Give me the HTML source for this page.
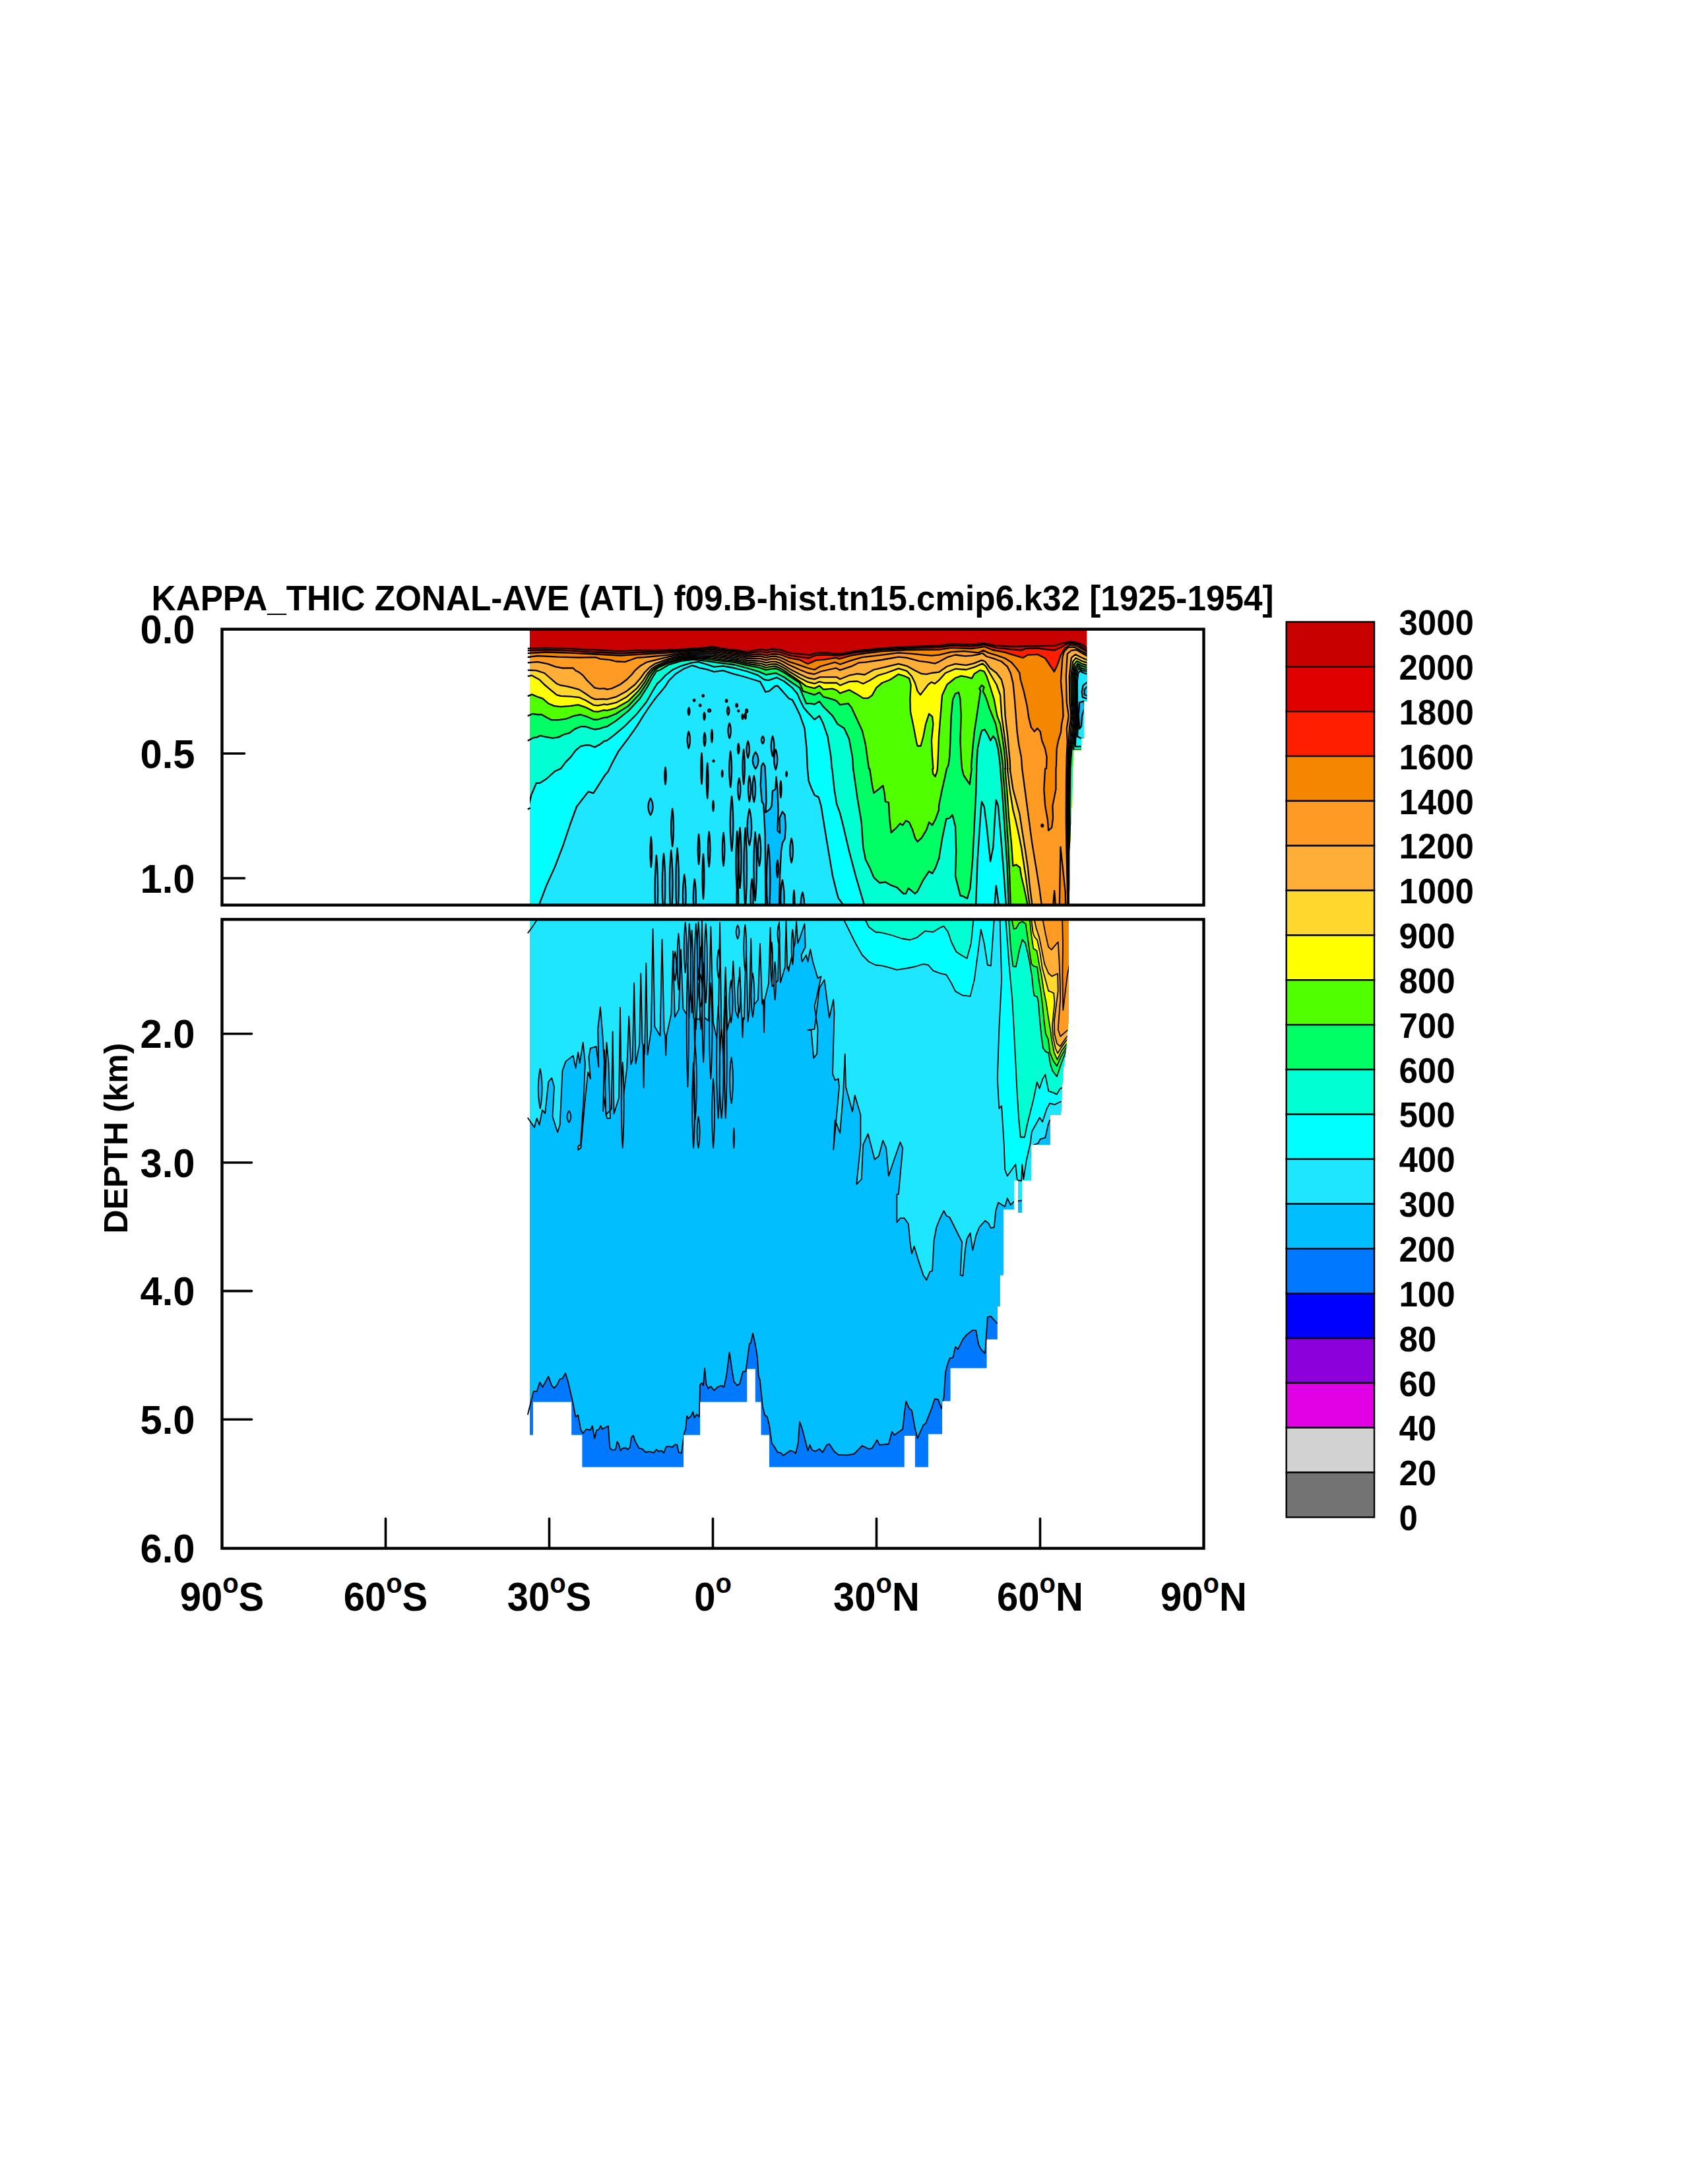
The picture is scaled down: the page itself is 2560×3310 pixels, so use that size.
<!DOCTYPE html>
<html lang="en"><head><meta charset="utf-8"><title>KAPPA_THIC ZONAL-AVE (ATL)</title>
<style>html,body{margin:0;padding:0;background:#fff}svg{display:block}text{font-family:"Liberation Sans", Arial, Helvetica, sans-serif;font-weight:bold;fill:#000}</style></head><body>
<svg width="2560" height="3310" viewBox="0 0 2560 3310">
<rect width="2560" height="3310" fill="#fff"/>
<defs><clipPath id="cu"><path d="M803.0 953.6 L1647.3 953.6 L1647.3 1062.6 L1642.7 1062.6 L1642.7 1118.4 L1638.7 1118.4 L1638.7 1136.3 L1626.8 1136.3 L1624.8 1205.0 L1621.8 1284.0 L1620.8 1371.7 L803.0 1371.7Z"/></clipPath><clipPath id="cl"><path d="M803.0 1393.4 L1620.0 1393.4 L1620.0 1540.0 L1616.0 1590.0 L1611.0 1625.0 L1608.0 1690.0 L1592.0 1690.0 L1592.0 1735.0 L1563.0 1735.0 L1563.0 1789.0 L1549.0 1789.0 L1549.0 1838.0 L1543.0 1838.0 L1543.0 1789.0 L1537.0 1789.0 L1537.0 1833.0 L1520.6 1833.0 L1520.6 1932.4 L1515.6 1932.4 L1515.6 1979.9 L1511.8 1979.9 L1511.8 2029.9 L1495.6 2029.9 L1495.6 2073.6 L1440.6 2073.6 L1440.6 2123.6 L1428.1 2123.6 L1428.1 2173.5 L1406.9 2173.5 L1406.9 2223.5 L1386.9 2223.5 L1386.9 2176.0 L1370.7 2176.0 L1370.7 2223.5 L1166.0 2223.5 L1166.0 2174.8 L1153.5 2174.8 L1153.5 2124.8 L1144.8 2124.8 L1144.8 2074.8 L1132.3 2074.8 L1132.3 2124.8 L1061.1 2124.8 L1061.1 2174.8 L1036.1 2174.8 L1036.1 2223.5 L882.4 2223.5 L882.4 2174.8 L866.2 2174.8 L866.2 2124.8 L808.0 2124.8 L808.0 2174.8 L803.0 2174.8Z"/></clipPath></defs>
<g clip-path="url(#cu)" stroke="#000" stroke-width="2.3" stroke-linejoin="round">
<rect x="780" y="940" width="900" height="450" fill="#C80000" stroke="none"/>
<path d="M780.0 982.7 L800.2 982.7 L827.5 981.9 L865.0 983.1 L902.4 985.0 L939.9 986.6 L964.9 985.6 L1001.0 985.6 L1038.5 983.7 L1057.2 982.5 L1071.0 981.5 L1078.5 979.7 L1085.9 981.2 L1100.9 983.7 L1119.7 985.6 L1132.2 988.1 L1144.7 985.6 L1153.4 984.0 L1162.1 985.6 L1168.4 983.5 L1182.1 984.4 L1195.9 989.4 L1212.0 991.2 L1228.2 992.7 L1237.0 989.7 L1253.2 989.5 L1272.0 991.2 L1299.4 986.2 L1336.9 982.5 L1374.4 980.2 L1423.0 978.7 L1441.7 976.0 L1473.0 976.9 L1491.7 975.0 L1510.4 978.7 L1535.4 980.0 L1560.4 979.4 L1597.9 978.7 L1610.4 975.0 L1622.9 972.5 L1634.0 974.4 L1639.7 976.9 L1648.7 981.9 L1700.0 981.9 L1700.0 1420.0 L780.0 1420.0Z" fill="#E10000"/>
<path d="M780.0 986.0 L800.2 986.0 L827.5 985.0 L865.0 986.2 L902.4 988.5 L939.9 990.0 L964.9 989.0 L1013.5 987.2 L1032.2 985.8 L1038.5 985.5 L1051.0 984.6 L1057.2 984.3 L1071.0 983.5 L1078.5 982.1 L1085.9 983.5 L1088.4 983.9 L1100.9 986.0 L1113.4 987.2 L1119.7 988.0 L1132.2 990.5 L1144.7 988.7 L1150.9 987.8 L1153.4 987.5 L1160.9 989.1 L1162.1 989.3 L1168.4 987.3 L1170.0 987.4 L1175.9 987.5 L1182.1 988.1 L1188.4 990.3 L1195.9 993.2 L1200.9 993.9 L1212.0 995.6 L1225.7 997.5 L1237.0 993.1 L1253.2 992.7 L1272.0 993.7 L1299.4 988.5 L1336.9 984.7 L1374.4 982.5 L1423.0 981.2 L1441.7 978.7 L1473.0 979.7 L1491.7 976.9 L1510.4 981.9 L1535.4 984.4 L1547.9 985.6 L1554.2 983.1 L1572.9 982.5 L1597.9 985.6 L1607.9 981.2 L1617.9 975.6 L1625.4 974.4 L1634.0 976.9 L1639.7 980.5 L1648.7 985.5 L1700.0 985.5 L1700.0 1420.0 L780.0 1420.0Z" fill="#FF1E00"/>
<path d="M780.0 990.0 L800.2 990.0 L827.5 988.5 L865.0 989.7 L902.4 991.5 L939.9 993.5 L964.9 992.2 L1013.5 989.3 L1032.2 987.6 L1038.5 987.2 L1051.0 986.3 L1057.2 986.1 L1071.0 985.7 L1078.5 984.6 L1085.9 986.0 L1088.4 986.4 L1100.9 988.4 L1113.4 989.7 L1119.7 990.5 L1132.2 993.2 L1144.7 992.0 L1150.9 991.5 L1153.4 991.4 L1160.9 993.2 L1162.1 993.3 L1168.4 991.5 L1170.0 991.5 L1175.9 991.3 L1182.1 992.0 L1188.4 994.2 L1195.9 997.2 L1200.9 998.1 L1212.0 1000.0 L1224.5 1006.2 L1237.0 1000.6 L1249.5 999.7 L1267.0 996.9 L1272.0 998.7 L1289.5 993.7 L1311.9 990.0 L1336.9 987.2 L1374.4 985.0 L1423.0 984.7 L1441.7 981.9 L1473.0 983.1 L1491.7 980.0 L1504.2 985.0 L1522.9 988.7 L1541.7 994.4 L1550.4 996.9 L1557.9 992.5 L1572.9 991.9 L1584.1 997.5 L1591.6 1008.7 L1597.9 1018.1 L1602.9 1007.5 L1607.9 992.5 L1614.1 982.5 L1621.6 977.5 L1627.9 977.5 L1634.0 980.0 L1639.7 983.3 L1648.7 988.5 L1700.0 988.5 L1700.0 1420.0 L780.0 1420.0Z" fill="#F58700"/>
<path d="M780.0 996.0 L800.2 996.0 L815.0 994.0 L846.2 995.6 L877.4 996.5 L902.4 996.2 L909.9 998.7 L924.9 1000.2 L933.7 1002.5 L947.4 1003.1 L956.1 1000.0 L964.9 996.9 L977.4 996.0 L1013.5 992.6 L1032.2 990.0 L1038.5 989.5 L1051.0 988.4 L1057.2 988.3 L1071.0 988.0 L1078.5 987.2 L1085.9 988.5 L1088.4 988.9 L1100.9 990.7 L1113.4 992.0 L1119.7 992.9 L1132.2 995.6 L1144.7 995.0 L1150.9 994.7 L1153.4 994.7 L1160.9 996.6 L1162.1 996.7 L1168.4 994.9 L1170.0 994.9 L1175.9 994.9 L1182.1 996.3 L1188.4 999.0 L1195.9 1002.8 L1200.9 1004.4 L1212.0 1008.1 L1224.5 1012.5 L1234.5 1015.0 L1243.2 1010.0 L1265.7 1003.7 L1273.2 1006.8 L1289.5 1001.2 L1306.9 996.2 L1336.9 992.7 L1361.9 989.4 L1380.6 990.6 L1399.4 992.7 L1411.9 993.7 L1423.0 992.7 L1441.7 988.1 L1460.5 986.9 L1473.0 988.1 L1483.0 989.4 L1490.5 985.6 L1498.0 989.4 L1510.4 993.1 L1522.9 997.5 L1532.9 1003.7 L1540.4 1012.5 L1545.4 1020.0 L1546.7 1030.0 L1551.7 1047.4 L1556.7 1069.9 L1559.2 1087.4 L1562.9 1102.4 L1567.9 1108.7 L1572.3 1103.7 L1576.7 1108.7 L1579.2 1122.4 L1584.1 1134.9 L1586.6 1147.4 L1586.0 1164.9 L1584.1 1165.0 L1582.3 1196.2 L1584.1 1221.2 L1587.9 1242.5 L1589.1 1258.7 L1594.1 1254.3 L1596.0 1240.0 L1595.4 1221.2 L1600.4 1196.2 L1600.4 1165.0 L1601.0 1159.9 L1601.6 1134.9 L1604.1 1122.4 L1607.9 1109.9 L1609.1 1097.4 L1611.6 1084.9 L1610.4 1059.9 L1607.9 1032.5 L1610.4 996.2 L1612.9 987.5 L1619.1 981.2 L1627.9 980.6 L1634.0 983.7 L1639.7 986.9 L1648.7 991.8 L1700.0 991.8 L1700.0 1420.0 L780.0 1420.0Z" fill="#FF9B23"/>
<path d="M780.0 1004.3 L800.2 1004.3 L815.0 1003.1 L830.0 1006.2 L842.5 1010.6 L852.5 1012.5 L868.7 1012.5 L872.4 1016.2 L877.4 1018.7 L883.7 1023.7 L889.9 1031.2 L896.2 1037.5 L901.2 1042.4 L908.7 1043.9 L916.2 1043.4 L919.9 1044.9 L927.4 1043.4 L939.9 1037.5 L949.9 1030.0 L957.4 1022.5 L962.4 1016.2 L971.1 1008.7 L979.9 1003.7 L989.9 1001.2 L1013.5 995.4 L1032.2 992.1 L1038.5 991.6 L1051.0 990.4 L1057.2 990.4 L1071.0 990.3 L1078.5 989.7 L1085.9 991.0 L1088.4 991.3 L1100.9 993.1 L1113.4 994.4 L1119.7 995.4 L1132.2 998.2 L1144.7 998.1 L1150.9 998.1 L1153.4 998.3 L1160.9 1000.3 L1162.1 1000.4 L1168.4 998.7 L1170.0 998.6 L1175.9 998.7 L1182.1 1000.5 L1188.4 1003.5 L1195.9 1007.8 L1200.9 1009.9 L1212.0 1015.0 L1224.5 1020.0 L1234.5 1021.8 L1244.5 1017.5 L1267.0 1012.5 L1273.2 1015.6 L1292.0 1009.3 L1301.9 1004.3 L1311.9 1003.7 L1336.9 1000.0 L1361.9 995.6 L1374.4 996.9 L1393.1 1001.8 L1406.9 1003.7 L1416.9 1005.6 L1423.0 1003.1 L1435.5 996.2 L1448.0 992.5 L1463.0 994.4 L1473.0 993.7 L1483.0 991.9 L1489.2 990.0 L1495.5 995.0 L1507.9 998.7 L1517.9 1002.5 L1526.7 1010.0 L1531.7 1020.0 L1535.4 1035.0 L1537.9 1059.9 L1539.8 1084.9 L1541.7 1109.9 L1544.2 1128.6 L1547.9 1147.4 L1549.2 1164.9 L1549.2 1165.0 L1554.2 1202.5 L1559.2 1240.0 L1564.2 1277.4 L1570.4 1314.9 L1575.4 1346.1 L1578.5 1369.9 L1579.8 1384.9 L1579.8 1420.0 L780.0 1420.0Z" fill="#FFAF37"/>
<path d="M780.0 1015.6 L800.2 1015.6 L812.5 1016.2 L825.0 1020.0 L833.7 1027.5 L843.7 1036.2 L850.0 1038.7 L861.2 1040.6 L877.4 1044.9 L887.4 1051.2 L896.2 1057.4 L902.4 1059.9 L914.9 1059.3 L919.9 1059.9 L933.7 1056.2 L949.9 1047.4 L962.4 1037.5 L971.1 1027.5 L977.4 1018.7 L984.9 1011.2 L992.4 1006.2 L1013.5 998.3 L1032.2 994.3 L1038.5 993.7 L1051.0 992.3 L1057.2 992.4 L1071.0 992.6 L1078.5 992.3 L1085.9 993.5 L1088.4 993.8 L1100.9 995.5 L1113.4 996.9 L1119.7 998.0 L1132.2 1000.8 L1144.7 1001.5 L1150.9 1001.8 L1153.4 1002.1 L1160.9 1004.4 L1162.1 1004.4 L1168.4 1002.9 L1170.0 1002.8 L1175.9 1002.8 L1182.1 1005.1 L1188.4 1008.4 L1195.9 1013.2 L1200.9 1015.9 L1212.0 1021.8 L1224.5 1027.5 L1234.5 1029.3 L1243.2 1026.2 L1268.2 1026.2 L1273.2 1029.3 L1287.0 1023.7 L1299.4 1021.2 L1310.7 1022.5 L1324.4 1015.0 L1343.2 1010.6 L1361.9 1006.2 L1374.4 1009.3 L1386.9 1016.2 L1396.9 1021.2 L1404.4 1021.8 L1411.9 1020.0 L1423.0 1018.7 L1435.5 1010.0 L1448.0 1006.2 L1464.2 1008.1 L1475.5 1005.6 L1488.0 1000.6 L1493.0 1002.5 L1500.5 1012.5 L1510.4 1020.0 L1517.9 1030.0 L1521.7 1044.9 L1523.6 1084.9 L1527.3 1116.2 L1528.9 1134.9 L1530.7 1153.6 L1531.2 1164.9 L1530.7 1165.0 L1535.4 1196.2 L1540.4 1215.0 L1545.4 1233.7 L1549.2 1258.7 L1554.2 1289.9 L1557.9 1314.9 L1560.4 1339.9 L1564.2 1369.9 L1565.4 1384.9 L1565.4 1420.0 L780.0 1420.0Z" fill="#FFD72D"/>
<path d="M780.0 1024.7 L800.2 1024.7 L806.2 1023.7 L817.5 1030.0 L825.0 1037.5 L833.7 1044.9 L843.7 1053.1 L850.0 1054.9 L865.0 1055.6 L877.4 1056.8 L887.4 1061.2 L899.9 1068.7 L906.2 1069.3 L916.2 1067.4 L919.9 1068.1 L933.7 1064.9 L949.9 1056.2 L964.9 1043.7 L974.9 1031.2 L981.1 1021.2 L987.4 1013.7 L994.9 1008.7 L1013.5 1000.5 L1032.2 996.1 L1038.5 995.5 L1051.0 994.1 L1057.2 994.4 L1071.0 994.8 L1078.5 994.8 L1085.9 996.0 L1088.4 996.3 L1100.9 997.9 L1113.4 999.3 L1119.7 1000.5 L1132.2 1003.4 L1144.7 1004.6 L1150.9 1005.3 L1153.4 1005.7 L1160.9 1008.1 L1162.1 1008.1 L1168.4 1006.7 L1170.0 1006.5 L1175.9 1006.4 L1182.1 1009.0 L1188.4 1012.3 L1195.9 1017.4 L1200.9 1020.4 L1212.0 1027.2 L1224.5 1033.7 L1234.5 1036.2 L1242.0 1033.1 L1249.5 1035.0 L1268.2 1035.0 L1273.2 1038.7 L1287.0 1033.1 L1299.4 1032.5 L1308.2 1036.2 L1318.2 1031.2 L1330.7 1023.7 L1343.2 1020.0 L1361.9 1013.1 L1374.4 1016.8 L1381.9 1025.0 L1386.9 1035.0 L1390.6 1047.4 L1395.0 1053.1 L1399.4 1047.4 L1406.9 1037.5 L1411.9 1033.7 L1416.9 1036.2 L1423.0 1031.2 L1433.0 1020.0 L1448.0 1013.7 L1464.2 1015.0 L1476.7 1011.2 L1489.2 1005.6 L1494.2 1010.0 L1503.0 1025.0 L1510.4 1037.5 L1516.1 1053.7 L1518.2 1084.9 L1521.7 1109.9 L1524.8 1134.9 L1526.9 1153.6 L1527.4 1164.9 L1526.9 1165.0 L1530.4 1196.2 L1535.4 1227.5 L1539.2 1242.5 L1542.9 1258.7 L1547.9 1283.7 L1551.7 1308.7 L1555.4 1333.6 L1557.9 1352.4 L1560.4 1369.9 L1561.4 1384.9 L1561.4 1420.0 L780.0 1420.0Z" fill="#FFFF00"/>
<path d="M780.0 1054.9 L800.2 1054.9 L806.2 1052.4 L815.0 1056.2 L822.5 1058.7 L831.2 1066.2 L840.0 1069.9 L850.0 1071.2 L865.0 1069.9 L876.2 1068.1 L887.4 1071.8 L899.9 1078.1 L906.2 1078.7 L916.2 1076.2 L919.9 1076.8 L933.7 1073.1 L952.4 1062.4 L967.4 1047.4 L977.4 1033.7 L983.6 1022.5 L989.9 1015.0 L996.1 1010.6 L1013.5 1002.8 L1032.2 998.0 L1038.5 997.3 L1051.0 995.9 L1057.2 996.3 L1071.0 997.0 L1078.5 997.4 L1085.9 998.4 L1088.4 998.8 L1100.9 1000.3 L1113.4 1001.6 L1119.7 1002.9 L1132.2 1005.8 L1144.7 1007.5 L1150.9 1008.4 L1153.4 1009.0 L1160.9 1011.6 L1162.1 1011.5 L1168.4 1010.1 L1170.0 1009.9 L1175.9 1009.7 L1182.1 1012.6 L1188.4 1016.1 L1195.9 1021.4 L1200.9 1024.8 L1212.0 1032.5 L1222.0 1040.0 L1234.5 1043.1 L1242.0 1039.3 L1248.2 1044.9 L1262.0 1043.7 L1268.2 1046.2 L1273.2 1050.6 L1287.0 1045.6 L1299.4 1052.4 L1308.2 1058.1 L1315.7 1058.1 L1321.9 1053.7 L1328.2 1042.4 L1336.9 1035.0 L1349.4 1030.0 L1361.9 1021.8 L1371.9 1025.0 L1378.1 1028.1 L1380.6 1037.5 L1379.4 1059.9 L1380.0 1078.7 L1384.4 1099.9 L1389.4 1126.1 L1390.6 1130.5 L1395.6 1130.5 L1399.4 1116.2 L1403.1 1097.4 L1408.1 1081.8 L1413.1 1086.2 L1414.4 1097.4 L1411.9 1122.4 L1413.1 1147.4 L1414.4 1164.9 L1413.4 1165.0 L1414.0 1172.5 L1417.5 1176.9 L1420.0 1170.0 L1420.9 1165.0 L1421.8 1147.4 L1423.0 1116.2 L1425.5 1084.9 L1428.0 1053.7 L1435.5 1037.5 L1448.0 1027.5 L1456.7 1024.3 L1464.2 1025.6 L1473.0 1028.1 L1476.7 1021.2 L1485.5 1015.6 L1491.7 1017.5 L1495.5 1025.0 L1500.5 1040.0 L1506.7 1059.9 L1511.4 1084.9 L1516.1 1097.4 L1519.2 1116.2 L1521.7 1134.9 L1523.6 1153.6 L1523.9 1164.9 L1523.3 1165.0 L1526.7 1202.5 L1529.2 1240.0 L1532.9 1277.4 L1535.4 1312.4 L1540.4 1310.5 L1546.0 1314.9 L1547.9 1327.4 L1552.3 1346.1 L1557.3 1369.9 L1558.5 1384.9 L1558.5 1420.0 L780.0 1420.0Z" fill="#50FF00"/>
<path d="M780.0 1084.9 L800.2 1084.9 L807.5 1081.8 L815.0 1083.0 L821.2 1083.0 L828.7 1087.4 L836.2 1091.2 L846.2 1091.2 L858.7 1089.3 L870.0 1084.9 L879.9 1083.0 L889.9 1086.2 L899.9 1090.5 L906.2 1090.5 L916.2 1087.4 L919.9 1087.4 L933.7 1081.8 L952.4 1069.9 L969.9 1051.2 L979.9 1036.2 L986.1 1025.0 L992.4 1016.2 L997.4 1011.8 L1013.5 1004.7 L1032.2 999.6 L1038.5 999.0 L1051.0 997.6 L1057.2 998.1 L1071.0 999.2 L1078.5 999.9 L1085.9 1000.9 L1088.4 1001.2 L1100.9 1002.6 L1113.4 1003.9 L1119.7 1005.3 L1132.2 1008.3 L1144.7 1010.7 L1150.9 1011.9 L1153.4 1012.6 L1160.9 1015.3 L1162.1 1015.2 L1168.4 1013.9 L1170.0 1013.7 L1175.9 1013.0 L1182.1 1015.9 L1188.4 1019.2 L1195.9 1024.3 L1200.9 1027.6 L1212.0 1034.7 L1217.0 1047.4 L1224.5 1049.9 L1234.5 1053.1 L1242.0 1049.3 L1248.2 1056.2 L1262.0 1059.9 L1268.2 1062.4 L1273.2 1068.1 L1285.7 1066.2 L1290.7 1072.4 L1299.4 1091.2 L1306.9 1107.4 L1311.9 1128.6 L1316.9 1164.9 L1318.2 1165.0 L1321.9 1190.0 L1324.4 1201.9 L1331.9 1196.2 L1338.2 1190.6 L1340.7 1202.5 L1341.9 1215.0 L1346.9 1216.2 L1348.2 1240.0 L1350.7 1261.8 L1358.2 1254.9 L1364.4 1248.1 L1368.2 1250.6 L1373.1 1243.7 L1378.1 1246.2 L1383.1 1257.4 L1386.9 1269.9 L1390.6 1275.6 L1396.9 1269.9 L1404.4 1257.4 L1408.1 1246.2 L1413.1 1250.6 L1418.1 1241.2 L1423.0 1227.5 L1423.0 1221.2 L1428.0 1196.2 L1431.7 1180.0 L1434.9 1165.0 L1437.4 1159.9 L1439.2 1147.4 L1440.5 1122.4 L1441.7 1084.9 L1444.2 1059.9 L1448.0 1051.2 L1453.0 1049.3 L1455.5 1059.9 L1456.7 1084.9 L1455.5 1122.4 L1456.7 1147.4 L1458.0 1164.9 L1458.2 1165.0 L1460.5 1175.0 L1469.8 1188.7 L1472.7 1165.0 L1472.0 1162.4 L1474.2 1134.9 L1476.7 1109.9 L1480.5 1084.9 L1484.2 1059.9 L1486.1 1047.4 L1484.5 1043.1 L1488.0 1038.5 L1491.5 1041.4 L1489.8 1047.4 L1493.0 1053.7 L1496.7 1063.7 L1499.2 1072.4 L1504.2 1084.9 L1509.2 1097.4 L1512.9 1116.2 L1516.7 1134.9 L1519.4 1153.6 L1520.2 1164.9 L1519.8 1165.0 L1522.9 1202.5 L1525.4 1240.0 L1527.9 1277.4 L1529.8 1314.9 L1531.7 1369.9 L1532.4 1384.9 L1532.4 1420.0 L780.0 1420.0Z" fill="#00FF64"/>
<path d="M780.0 1122.4 L800.2 1122.4 L808.7 1118.0 L813.7 1117.4 L818.7 1114.9 L827.5 1116.8 L837.5 1118.7 L846.2 1117.4 L855.0 1113.0 L862.5 1111.2 L871.2 1104.9 L879.9 1101.2 L887.4 1101.2 L894.9 1103.7 L901.2 1105.5 L908.7 1104.3 L916.2 1101.8 L919.9 1101.2 L933.7 1092.4 L952.4 1077.4 L969.9 1058.7 L981.1 1041.2 L988.6 1027.5 L994.9 1017.5 L1001.0 1015.0 L1013.5 1007.5 L1032.2 1001.8 L1051.0 999.7 L1071.0 1001.8 L1088.4 1004.3 L1113.4 1007.5 L1132.2 1012.5 L1150.9 1018.1 L1160.9 1022.5 L1170.0 1021.2 L1175.9 1020.0 L1188.4 1026.2 L1200.9 1035.0 L1212.0 1042.4 L1222.0 1066.2 L1228.2 1066.2 L1234.5 1067.4 L1242.0 1063.1 L1248.2 1071.2 L1262.0 1084.9 L1269.5 1097.4 L1279.5 1103.7 L1287.0 1119.9 L1292.0 1147.4 L1293.2 1164.9 L1293.2 1165.0 L1299.4 1208.7 L1305.7 1246.2 L1308.2 1283.7 L1311.9 1302.4 L1318.2 1314.9 L1324.4 1329.9 L1333.2 1338.0 L1341.9 1336.8 L1349.4 1341.1 L1359.4 1344.9 L1369.4 1354.3 L1373.1 1354.3 L1376.9 1346.1 L1386.9 1354.3 L1390.6 1351.1 L1399.4 1333.6 L1408.1 1320.5 L1413.1 1323.7 L1418.1 1314.9 L1423.0 1301.2 L1423.0 1302.4 L1428.0 1271.2 L1434.2 1241.2 L1439.2 1240.0 L1443.6 1235.0 L1448.0 1252.4 L1449.2 1289.9 L1448.0 1327.4 L1455.5 1357.4 L1459.2 1358.0 L1466.1 1361.8 L1470.5 1346.1 L1474.2 1302.4 L1476.7 1252.4 L1479.2 1202.5 L1480.2 1165.0 L1480.2 1159.9 L1481.7 1134.9 L1485.5 1116.2 L1488.0 1107.4 L1492.3 1105.5 L1496.7 1112.4 L1501.1 1122.4 L1505.4 1115.5 L1509.2 1121.1 L1512.7 1134.9 L1515.2 1153.6 L1516.2 1164.9 L1516.1 1165.0 L1519.2 1202.5 L1521.7 1240.0 L1524.2 1277.4 L1526.7 1314.9 L1528.6 1369.9 L1529.2 1384.9 L1529.2 1420.0 L780.0 1420.0Z" fill="#00FFD2"/>
<path d="M780.0 1227.6 L797.6 1227.6 L800.2 1226.3 L805.3 1204.7 L812.9 1186.9 L818.0 1186.9 L828.2 1180.5 L840.9 1169.0 L850.0 1164.9 L857.5 1154.9 L865.0 1147.4 L872.4 1137.4 L879.9 1131.1 L887.4 1129.3 L893.7 1129.3 L901.2 1132.4 L908.7 1128.6 L916.2 1123.0 L919.9 1122.4 L929.9 1114.9 L946.2 1101.2 L964.9 1082.4 L979.9 1063.7 L989.9 1046.2 L996.1 1036.2 L1001.0 1031.8 L1008.5 1023.7 L1019.7 1015.0 L1032.2 1009.3 L1048.5 1004.3 L1058.5 1003.1 L1071.0 1006.8 L1082.2 1010.6 L1095.9 1009.3 L1113.4 1012.5 L1132.2 1017.5 L1148.4 1023.1 L1158.4 1030.0 L1164.6 1031.2 L1177.1 1026.8 L1188.4 1032.5 L1200.9 1042.4 L1208.4 1051.2 L1212.0 1059.9 L1218.2 1072.4 L1224.5 1079.9 L1234.5 1090.5 L1242.0 1084.9 L1247.0 1094.9 L1254.5 1116.2 L1259.5 1147.4 L1260.7 1164.9 L1261.3 1165.0 L1264.5 1196.2 L1268.2 1218.7 L1273.2 1232.5 L1278.2 1252.4 L1287.0 1289.9 L1296.9 1327.4 L1309.4 1369.9 L1313.2 1384.9 L1313.2 1420.0 L780.0 1420.0Z" fill="#00FFFF"/>
<path d="M780.0 1382.9 L814.2 1382.9 L818.0 1368.9 L828.2 1342.1 L840.9 1314.1 L853.6 1281.0 L863.8 1250.5 L874.0 1222.5 L891.8 1199.6 L899.5 1202.1 L917.3 1174.1 L921.2 1170.0 L927.4 1157.4 L937.4 1138.6 L952.4 1118.7 L964.9 1101.2 L974.9 1084.9 L984.9 1069.9 L994.9 1056.2 L1001.0 1049.3 L1008.5 1040.0 L1013.5 1031.8 L1023.5 1021.8 L1036.0 1013.7 L1048.5 1008.7 L1054.7 1010.0 L1058.5 1011.8 L1071.0 1014.3 L1082.2 1018.1 L1095.9 1016.2 L1110.9 1021.2 L1125.9 1025.0 L1142.2 1030.0 L1152.2 1033.1 L1157.2 1042.4 L1160.3 1048.7 L1165.9 1047.4 L1174.6 1040.0 L1178.4 1039.3 L1185.9 1047.4 L1195.9 1058.7 L1200.9 1060.6 L1205.9 1069.9 L1212.0 1082.4 L1219.5 1103.7 L1222.6 1134.9 L1223.9 1164.9 L1224.5 1171.2 L1225.7 1183.7 L1229.5 1193.7 L1234.5 1205.0 L1240.7 1208.1 L1244.5 1221.2 L1249.5 1252.4 L1255.7 1289.9 L1262.0 1327.4 L1268.2 1352.4 L1270.7 1361.1 L1277.0 1369.9 L1282.0 1384.9 L1282.0 1420.0 L780.0 1420.0Z" fill="#1EE6FF"/>
<path d="M1478.6 1384.9 L1481.7 1302.4 L1484.2 1264.9 L1486.7 1227.5 L1488.0 1215.0 L1491.7 1222.5 L1495.5 1252.4 L1501.1 1305.5 L1505.4 1283.7 L1507.9 1240.0 L1509.8 1212.5 L1512.9 1221.2 L1516.7 1264.9 L1521.7 1327.4 L1525.7 1384.9Z" fill="#00FFFF"/>
<path d="M1506.4 1384.9 L1509.8 1342.4 L1515.7 1384.9Z" fill="#1EE6FF"/>
<path d="M1595.1 1384.9 L1598.1 1349.9 L1600.9 1384.9Z" fill="#F58700"/>
<path d="M1605.6 1384.9 L1607.4 1283.7 L1614.8 1352.4 L1615.4 1384.9Z" fill="#F58700"/>
<path d="M1581.3 1251.2 L1581.0 1252.4 L1580.2 1253.1 L1579.3 1253.1 L1578.6 1252.4 L1578.3 1251.2 L1578.6 1250.0 L1579.3 1249.3 L1580.2 1249.3 L1581.0 1250.0Z" fill="#000"/>
<path d="M1648.7 994.8 L1639.7 989.8 L1631.8 984.9 L1623.8 985.9 L1617.8 990.8 L1615.8 1024.7 L1616.8 1064.6 L1619.8 1084.5 L1616.8 1104.5 L1617.8 1124.4 L1616.8 1144.3 L1616.0 1184.2 L1615.8 1244.0 L1616.4 1283.8 L1617.4 1323.7 L1618.6 1383.5 L1700.0 1383.5 L1700.0 994.8Z" fill="#FFAF37"/>
<path d="M1648.7 1000.8 L1639.7 996.8 L1629.8 991.8 L1623.8 996.8 L1620.8 1024.7 L1621.4 1064.6 L1623.4 1084.5 L1620.8 1104.5 L1619.8 1124.4 L1619.0 1144.3 L1617.8 1184.2 L1617.4 1244.0 L1617.8 1323.7 L1619.4 1383.5 L1700.0 1383.5 L1700.0 1000.8Z" fill="#FFD72D"/>
<path d="M1648.7 1004.8 L1639.7 1001.8 L1630.8 997.2 L1626.2 1002.8 L1623.4 1024.7 L1623.8 1064.6 L1625.4 1084.5 L1623.4 1104.5 L1622.2 1124.4 L1620.6 1136.3 L1619.4 1164.3 L1618.8 1244.0 L1619.0 1323.7 L1620.2 1383.5 L1700.0 1383.5 L1700.0 1004.8Z" fill="#FFFF00"/>
<path d="M1648.7 1008.4 L1639.7 1005.8 L1632.2 1001.8 L1628.2 1006.8 L1625.4 1024.7 L1625.8 1064.6 L1627.4 1084.5 L1625.8 1104.5 L1624.2 1124.4 L1622.4 1136.3 L1620.6 1164.3 L1620.0 1244.0 L1620.2 1323.7 L1621.0 1383.5 L1700.0 1383.5 L1700.0 1008.4Z" fill="#50FF00"/>
<path d="M1648.7 1011.8 L1639.7 1009.2 L1633.4 1005.8 L1629.8 1010.8 L1627.4 1024.7 L1627.8 1064.6 L1629.4 1084.5 L1627.8 1104.5 L1626.2 1124.4 L1624.2 1136.3 L1622.2 1164.3 L1621.4 1224.1 L1622.2 1283.8 L1623.8 1293.8 L1700.0 1293.8 L1700.0 1011.8Z" fill="#00FF64"/>
<path d="M1648.7 1014.8 L1639.7 1012.8 L1634.1 1009.2 L1631.4 1013.8 L1629.2 1024.7 L1629.8 1064.6 L1631.2 1084.5 L1629.8 1104.5 L1628.2 1124.4 L1627.0 1136.3 L1700.0 1136.3 L1700.0 1014.8Z" fill="#00FFD2"/>
<path d="M1648.7 1017.8 L1639.7 1015.8 L1635.3 1012.8 L1632.8 1016.8 L1631.0 1028.7 L1631.4 1064.6 L1632.8 1084.5 L1631.8 1104.5 L1630.2 1120.4 L1629.8 1131.4 L1700.0 1131.4 L1700.0 1017.8Z" fill="#00FFFF"/>
<path d="M1648.7 1021.7 L1640.7 1019.1 L1636.7 1016.8 L1634.1 1020.7 L1632.8 1032.7 L1633.0 1064.6 L1634.1 1084.5 L1633.7 1104.5 L1633.0 1116.4 L1639.7 1119.4 L1700.0 1119.4 L1700.0 1021.7Z" fill="#1EE6FF"/>
<path d="M1636.1 1064.6 L1642.7 1062.6 L1644.1 1072.6 L1640.1 1084.5 L1638.9 1100.5 L1636.1 1104.5 L1634.9 1084.5Z" fill="#00BEFF"/>
<path d="M1649.7 1032.7 L1641.7 1038.7 L1639.7 1048.6 L1640.7 1056.6 L1649.7 1059.6Z" fill="#1EE6FF"/>
<path d="M1649.7 1038.7 L1643.7 1044.7 L1643.3 1052.6 L1649.7 1055.6Z" fill="#00BEFF"/>
<path fill="#00BEFF" d="M1067.0 1054.5 L1066.7 1055.4 L1066.1 1055.9 L1065.3 1055.9 L1064.7 1055.4 L1064.4 1054.5 L1064.7 1053.6 L1065.3 1053.0 L1066.1 1053.0 L1066.7 1053.6Z M1053.5 1061.3 L1053.2 1062.2 L1052.6 1062.8 L1051.8 1062.8 L1051.2 1062.2 L1050.9 1061.3 L1051.2 1060.4 L1051.8 1059.9 L1052.6 1059.9 L1053.2 1060.4Z M1062.4 1069.0 L1062.2 1069.9 L1061.5 1070.4 L1060.7 1070.4 L1060.1 1069.9 L1059.9 1069.0 L1060.1 1068.1 L1060.7 1067.5 L1061.5 1067.5 L1062.2 1068.1Z M1102.4 1062.1 L1102.1 1063.3 L1101.5 1064.0 L1100.7 1064.0 L1100.1 1063.3 L1099.8 1062.1 L1100.1 1060.9 L1100.7 1060.2 L1101.5 1060.2 L1102.1 1060.9Z M1117.9 1069.0 L1117.7 1070.5 L1117.0 1071.4 L1116.2 1071.4 L1115.6 1070.5 L1115.4 1069.0 L1115.6 1067.5 L1116.2 1066.6 L1117.0 1066.6 L1117.7 1067.5Z M1120.2 1077.4 L1120.0 1078.0 L1119.5 1078.4 L1118.9 1078.4 L1118.4 1078.0 L1118.2 1077.4 L1118.4 1076.8 L1118.9 1076.4 L1119.5 1076.4 L1120.0 1076.8Z M1077.2 1076.9 L1076.8 1078.1 L1075.8 1078.8 L1074.5 1078.8 L1073.5 1078.1 L1073.1 1076.9 L1073.5 1075.7 L1074.5 1074.9 L1075.8 1074.9 L1076.8 1075.7Z M1133.2 1077.4 L1132.9 1078.9 L1132.1 1079.8 L1131.2 1079.8 L1130.4 1078.9 L1130.1 1077.4 L1130.4 1075.9 L1131.2 1075.0 L1132.1 1075.0 L1132.9 1075.9Z M1082.5 1153.2 L1082.3 1154.0 L1081.8 1154.5 L1081.2 1154.5 L1080.7 1154.0 L1080.5 1153.2 L1080.7 1152.5 L1081.2 1152.0 L1081.8 1152.0 L1082.3 1152.5Z M1044.1 1072.5 L1044.7 1073.9 L1045.2 1075.9 L1045.4 1078.1 L1045.2 1080.4 L1044.7 1082.4 L1044.1 1083.7 L1043.5 1082.4 L1043.0 1080.4 L1042.8 1078.1 L1043.0 1075.9 L1043.5 1073.9Z M1067.5 1079.9 L1068.1 1081.3 L1068.6 1083.3 L1068.8 1085.5 L1068.6 1087.8 L1068.1 1089.8 L1067.5 1091.1 L1066.9 1089.8 L1066.4 1087.8 L1066.2 1085.5 L1066.4 1083.3 L1066.9 1081.3Z M1103.6 1071.0 L1104.4 1072.5 L1105.1 1074.8 L1105.4 1077.4 L1105.1 1079.9 L1104.4 1082.2 L1103.6 1083.7 L1102.9 1082.2 L1102.2 1079.9 L1101.9 1077.4 L1102.2 1074.8 L1102.9 1072.5Z M1125.5 1082.5 L1126.0 1083.4 L1126.5 1084.8 L1126.6 1086.3 L1126.5 1087.8 L1126.0 1089.2 L1125.5 1090.1 L1125.1 1089.2 L1124.6 1087.8 L1124.5 1086.3 L1124.6 1084.8 L1125.1 1083.4Z M1129.9 1080.4 L1130.4 1081.5 L1130.8 1083.2 L1130.9 1085.0 L1130.8 1086.9 L1130.4 1088.5 L1129.9 1089.6 L1129.4 1088.5 L1128.9 1086.9 L1128.8 1085.0 L1128.9 1083.2 L1129.4 1081.5Z M1105.7 1096.0 L1106.7 1098.7 L1107.5 1102.8 L1107.8 1107.4 L1107.5 1112.0 L1106.7 1116.1 L1105.7 1118.9 L1104.7 1116.1 L1103.8 1112.0 L1103.5 1107.4 L1103.8 1102.8 L1104.7 1098.7Z M1043.8 1108.7 L1044.8 1111.8 L1045.7 1116.3 L1046.0 1121.4 L1045.7 1126.5 L1044.8 1131.1 L1043.8 1134.2 L1042.8 1131.1 L1042.0 1126.5 L1041.7 1121.4 L1042.0 1116.3 L1042.8 1111.8Z M1068.0 1110.5 L1068.7 1112.9 L1069.3 1116.6 L1069.5 1120.7 L1069.3 1124.7 L1068.7 1128.4 L1068.0 1130.8 L1067.3 1128.4 L1066.7 1124.7 L1066.5 1120.7 L1066.7 1116.6 L1067.3 1112.9Z M1079.0 1105.9 L1079.4 1108.2 L1079.9 1111.7 L1080.0 1115.6 L1079.9 1119.4 L1079.4 1122.9 L1079.0 1125.2 L1078.5 1122.9 L1078.0 1119.4 L1077.9 1115.6 L1078.0 1111.7 L1078.5 1108.2Z M1156.1 1115.8 L1157.1 1117.2 L1157.9 1119.2 L1158.3 1121.4 L1157.9 1123.7 L1157.1 1125.7 L1156.1 1127.0 L1155.1 1125.7 L1154.3 1123.7 L1153.9 1121.4 L1154.3 1119.2 L1155.1 1117.2Z M1171.1 1115.6 L1172.2 1119.2 L1173.1 1124.7 L1173.5 1130.8 L1173.1 1137.0 L1172.2 1142.5 L1171.1 1146.1 L1170.0 1142.5 L1169.1 1137.0 L1168.7 1130.8 L1169.1 1124.7 L1170.0 1119.2Z M1119.2 1127.0 L1119.8 1128.9 L1120.3 1131.6 L1120.5 1134.7 L1120.3 1137.7 L1119.8 1140.5 L1119.2 1142.3 L1118.6 1140.5 L1118.1 1137.7 L1117.9 1134.7 L1118.1 1131.6 L1118.6 1128.9Z M1133.7 1123.2 L1134.7 1126.3 L1135.5 1130.8 L1135.9 1135.9 L1135.5 1141.0 L1134.7 1145.6 L1133.7 1148.7 L1132.7 1145.6 L1131.8 1141.0 L1131.5 1135.9 L1131.8 1130.8 L1132.7 1126.3Z M1145.1 1139.8 L1147.1 1142.8 L1148.8 1147.4 L1149.5 1152.5 L1148.8 1157.6 L1147.1 1162.2 L1145.1 1165.2 L1143.2 1162.2 L1141.5 1157.6 L1140.8 1152.5 L1141.5 1147.4 L1143.2 1142.8Z M1175.7 1135.9 L1176.9 1139.6 L1177.9 1145.1 L1178.3 1151.2 L1177.9 1157.3 L1176.9 1162.8 L1175.7 1166.5 L1174.5 1162.8 L1173.5 1157.3 L1173.1 1151.2 L1173.5 1145.1 L1174.5 1139.6Z M986.0 1209.8 L987.6 1212.8 L989.1 1217.4 L989.6 1222.5 L989.1 1227.6 L987.6 1232.2 L986.0 1235.2 L984.4 1232.2 L983.0 1227.6 L982.5 1222.5 L983.0 1217.4 L984.4 1212.8Z M986.8 1268.3 L987.4 1273.8 L987.9 1282.1 L988.1 1291.2 L987.9 1300.4 L987.4 1308.6 L986.8 1314.1 L986.2 1308.6 L985.7 1300.4 L985.5 1291.2 L985.7 1282.1 L986.2 1273.8Z M994.9 1296.3 L996.0 1309.2 L996.9 1328.4 L997.2 1349.8 L996.9 1371.2 L996.0 1390.4 L994.9 1403.2 L993.9 1390.4 L993.0 1371.2 L992.6 1349.8 L993.0 1328.4 L993.9 1309.2Z M1008.5 1162.8 L1009.0 1165.9 L1009.5 1170.5 L1009.6 1175.7 L1009.5 1180.9 L1009.0 1185.6 L1008.5 1188.7 L1008.0 1185.6 L1007.5 1180.9 L1007.4 1175.7 L1007.5 1170.5 L1008.0 1165.9Z M1063.5 1141.3 L1064.0 1146.9 L1064.4 1155.3 L1064.6 1164.7 L1064.4 1174.1 L1064.0 1182.5 L1063.5 1188.1 L1063.0 1182.5 L1062.5 1174.1 L1062.3 1164.7 L1062.5 1155.3 L1063.0 1146.9Z M1072.2 1156.4 L1072.8 1162.8 L1073.3 1172.5 L1073.5 1183.2 L1073.3 1193.9 L1072.8 1203.5 L1072.2 1210.0 L1071.6 1203.5 L1071.1 1193.9 L1070.9 1183.2 L1071.1 1172.5 L1071.6 1162.8Z M1094.7 1167.5 L1095.1 1168.7 L1095.4 1170.5 L1095.5 1172.5 L1095.4 1174.5 L1095.1 1176.3 L1094.7 1177.5 L1094.3 1176.3 L1094.0 1174.5 L1093.8 1172.5 L1094.0 1170.5 L1094.3 1168.7Z M1107.2 1138.5 L1108.0 1145.1 L1108.8 1154.9 L1109.1 1165.8 L1108.8 1176.7 L1108.0 1186.6 L1107.2 1193.1 L1106.3 1186.6 L1105.6 1176.7 L1105.3 1165.8 L1105.6 1154.9 L1106.3 1145.1Z M1127.2 1136.0 L1127.9 1142.3 L1128.6 1151.8 L1128.9 1162.4 L1128.6 1172.9 L1127.9 1182.4 L1127.2 1188.7 L1126.4 1182.4 L1125.7 1172.9 L1125.5 1162.4 L1125.7 1151.8 L1126.4 1142.3Z M1120.3 1179.4 L1121.2 1183.3 L1122.1 1189.3 L1122.4 1195.9 L1122.1 1202.5 L1121.2 1208.5 L1120.3 1212.5 L1119.4 1208.5 L1118.5 1202.5 L1118.2 1195.9 L1118.5 1189.3 L1119.4 1183.3Z M1135.9 1176.2 L1136.8 1180.9 L1137.7 1187.9 L1138.0 1195.6 L1137.7 1203.4 L1136.8 1210.3 L1135.9 1215.0 L1135.0 1210.3 L1134.2 1203.4 L1133.9 1195.6 L1134.2 1187.9 L1135.0 1180.9Z M1142.8 1175.6 L1143.8 1180.4 L1144.8 1187.6 L1145.1 1195.6 L1144.8 1203.6 L1143.8 1210.8 L1142.8 1215.6 L1141.7 1210.8 L1140.8 1203.6 L1140.4 1195.6 L1140.8 1187.6 L1141.7 1180.4Z M1183.4 1183.7 L1183.9 1186.7 L1184.3 1191.2 L1184.5 1196.2 L1184.3 1201.2 L1183.9 1205.7 L1183.4 1208.7 L1182.9 1205.7 L1182.4 1201.2 L1182.3 1196.2 L1182.4 1191.2 L1182.9 1186.7Z M1192.1 1169.4 L1192.5 1170.3 L1192.8 1171.6 L1192.9 1173.1 L1192.8 1174.6 L1192.5 1176.0 L1192.1 1176.9 L1191.8 1176.0 L1191.5 1174.6 L1191.4 1173.1 L1191.5 1171.6 L1191.8 1170.3Z M1019.1 1225.6 L1020.0 1232.5 L1020.7 1242.8 L1021.0 1254.3 L1020.7 1265.8 L1020.0 1276.2 L1019.1 1283.1 L1018.3 1276.2 L1017.5 1265.8 L1017.2 1254.3 L1017.5 1242.8 L1018.3 1232.5Z M1081.0 1213.7 L1081.4 1215.6 L1081.7 1218.4 L1081.9 1221.5 L1081.7 1224.7 L1081.4 1227.5 L1081.0 1229.3 L1080.5 1227.5 L1080.2 1224.7 L1080.0 1221.5 L1080.2 1218.4 L1080.5 1215.6Z M1109.1 1206.8 L1110.1 1216.8 L1111.0 1231.8 L1111.4 1248.4 L1111.0 1265.0 L1110.1 1280.0 L1109.1 1289.9 L1108.0 1280.0 L1107.1 1265.0 L1106.7 1248.4 L1107.1 1231.8 L1108.0 1216.8Z M1135.9 1226.2 L1137.4 1232.8 L1138.7 1242.7 L1139.2 1253.7 L1138.7 1264.7 L1137.4 1274.6 L1135.9 1281.2 L1134.4 1274.6 L1133.1 1264.7 L1132.6 1253.7 L1133.1 1242.7 L1134.4 1232.8Z M1059.1 1264.3 L1059.7 1269.8 L1060.3 1278.0 L1060.5 1287.1 L1060.3 1296.2 L1059.7 1304.4 L1059.1 1309.9 L1058.5 1304.4 L1057.9 1296.2 L1057.7 1287.1 L1057.9 1278.0 L1058.5 1269.8Z M1074.7 1260.6 L1075.5 1266.9 L1076.1 1276.5 L1076.4 1287.1 L1076.1 1297.7 L1075.5 1307.3 L1074.7 1313.7 L1073.9 1307.3 L1073.3 1297.7 L1073.0 1287.1 L1073.3 1276.5 L1073.9 1266.9Z M1096.6 1261.8 L1097.3 1267.9 L1098.0 1277.0 L1098.3 1287.1 L1098.0 1297.2 L1097.3 1306.3 L1096.6 1312.4 L1095.8 1306.3 L1095.1 1297.2 L1094.9 1287.1 L1095.1 1277.0 L1095.8 1267.9Z M1066.0 1294.3 L1066.6 1302.5 L1067.2 1314.7 L1067.4 1328.3 L1067.2 1342.0 L1066.6 1354.2 L1066.0 1362.4 L1065.3 1354.2 L1064.8 1342.0 L1064.6 1328.3 L1064.8 1314.7 L1065.3 1302.5Z M1006.0 1293.7 L1007.1 1305.2 L1008.0 1322.5 L1008.3 1341.8 L1008.0 1361.0 L1007.1 1378.3 L1006.0 1389.9 L1004.9 1378.3 L1004.0 1361.0 L1003.7 1341.8 L1004.0 1322.5 L1004.9 1305.2Z M1017.2 1288.7 L1018.3 1300.8 L1019.2 1319.0 L1019.6 1339.3 L1019.2 1359.5 L1018.3 1377.7 L1017.2 1389.9 L1016.2 1377.7 L1015.2 1359.5 L1014.9 1339.3 L1015.2 1319.0 L1016.2 1300.8Z M1026.6 1285.5 L1027.7 1298.1 L1028.6 1316.8 L1029.0 1337.7 L1028.6 1358.6 L1027.7 1377.3 L1026.6 1389.9 L1025.6 1377.3 L1024.6 1358.6 L1024.3 1337.7 L1024.6 1316.8 L1025.6 1298.1Z M1037.2 1325.5 L1038.3 1333.2 L1039.2 1344.8 L1039.6 1357.7 L1039.2 1370.6 L1038.3 1382.1 L1037.2 1389.9 L1036.2 1382.1 L1035.2 1370.6 L1034.9 1357.7 L1035.2 1344.8 L1036.2 1333.2Z M1052.8 1332.4 L1053.8 1339.3 L1054.6 1349.6 L1054.9 1361.1 L1054.6 1372.6 L1053.8 1383.0 L1052.8 1389.9 L1051.9 1383.0 L1051.1 1372.6 L1050.8 1361.1 L1051.1 1349.6 L1051.9 1339.3Z M1144.7 1261.2 L1145.7 1273.6 L1146.7 1292.3 L1147.0 1313.0 L1146.7 1333.8 L1145.7 1352.4 L1144.7 1364.9 L1143.6 1352.4 L1142.7 1333.8 L1142.3 1313.0 L1142.7 1292.3 L1143.6 1273.6Z M1150.9 1264.3 L1152.0 1270.1 L1152.9 1278.7 L1153.2 1288.4 L1152.9 1298.0 L1152.0 1306.6 L1150.9 1312.4 L1149.9 1306.6 L1148.9 1298.0 L1148.6 1288.4 L1148.9 1278.7 L1149.9 1270.1Z M1164.6 1279.9 L1165.9 1293.1 L1167.0 1312.9 L1167.5 1334.9 L1167.0 1356.9 L1165.9 1376.7 L1164.6 1389.9 L1163.4 1376.7 L1162.3 1356.9 L1161.8 1334.9 L1162.3 1312.9 L1163.4 1293.1Z M1178.4 1303.7 L1179.0 1306.8 L1179.6 1311.5 L1179.8 1316.8 L1179.6 1322.0 L1179.0 1326.7 L1178.4 1329.9 L1177.8 1326.7 L1177.2 1322.0 L1177.0 1316.8 L1177.2 1311.5 L1177.8 1306.8Z M1199.6 1270.6 L1200.7 1275.0 L1201.6 1281.6 L1202.0 1289.0 L1201.6 1296.4 L1200.7 1303.0 L1199.6 1307.4 L1198.6 1303.0 L1197.6 1296.4 L1197.3 1289.0 L1197.6 1281.6 L1198.6 1275.0Z M1185.9 1333.6 L1187.1 1340.4 L1188.3 1350.5 L1188.7 1361.8 L1188.3 1373.0 L1187.1 1383.1 L1185.9 1389.9 L1184.6 1383.1 L1183.5 1373.0 L1183.1 1361.8 L1183.5 1350.5 L1184.6 1340.4Z M1203.4 1349.3 L1203.9 1354.1 L1204.3 1361.4 L1204.5 1369.6 L1204.3 1377.7 L1203.9 1385.0 L1203.4 1389.9 L1202.9 1385.0 L1202.4 1377.7 L1202.2 1369.6 L1202.4 1361.4 L1202.9 1354.1Z M1117.8 1333.6 L1118.4 1340.4 L1119.0 1350.5 L1119.2 1361.8 L1119.0 1373.0 L1118.4 1383.1 L1117.8 1389.9 L1117.2 1383.1 L1116.6 1373.0 L1116.4 1361.8 L1116.6 1350.5 L1117.2 1340.4Z M1139.7 1332.4 L1140.6 1339.3 L1141.4 1349.6 L1141.7 1361.1 L1141.4 1372.6 L1140.6 1383.0 L1139.7 1389.9 L1138.7 1383.0 L1137.9 1372.6 L1137.6 1361.1 L1137.9 1349.6 L1138.7 1339.3Z M1117.2 1259.9 L1117.9 1271.0 L1118.6 1287.7 L1118.9 1306.2 L1118.6 1324.7 L1117.9 1341.3 L1117.2 1352.4 L1116.4 1341.3 L1115.7 1324.7 L1115.5 1306.2 L1115.7 1287.7 L1116.4 1271.0Z M1121.5 1254.3 L1122.5 1265.3 L1123.3 1281.9 L1123.6 1300.2 L1123.3 1318.6 L1122.5 1335.1 L1121.5 1346.1 L1120.6 1335.1 L1119.8 1318.6 L1119.5 1300.2 L1119.8 1281.9 L1120.6 1265.3Z M1129.7 1254.9 L1130.7 1269.6 L1131.7 1291.7 L1132.0 1316.2 L1131.7 1340.6 L1130.7 1362.7 L1129.7 1377.4 L1128.6 1362.7 L1127.7 1340.6 L1127.3 1316.2 L1127.7 1291.7 L1128.6 1269.6Z M1154.0 1161.3 L1156.7 1156.4 L1159.4 1161.3 L1160.9 1190.0 L1161.5 1215.0 L1160.3 1231.2 L1167.1 1226.2 L1169.6 1221.2 L1170.9 1198.7 L1175.3 1196.2 L1176.5 1177.5 L1178.4 1196.2 L1179.6 1227.5 L1178.4 1258.7 L1182.1 1262.4 L1181.5 1240.0 L1185.9 1230.0 L1189.6 1235.0 L1190.9 1252.4 L1189.6 1271.2 L1185.9 1277.4 L1184.0 1289.9 L1182.1 1327.4 L1180.9 1377.4 L1160.3 1377.4 L1159.7 1264.9 L1158.4 1240.0 L1157.2 1218.7 L1154.7 1215.0 L1152.8 1190.0Z M1216.4 1352.4 L1217.6 1356.9 L1218.7 1363.6 L1219.1 1371.1 L1218.7 1378.6 L1217.6 1385.4 L1216.4 1389.9 L1215.1 1385.4 L1214.0 1378.6 L1213.6 1371.1 L1214.0 1363.6 L1215.1 1356.9Z"/>
</g>
<path d="M799.8 982.8 L804 982.6 M799.8 986.0 L804 985.8 M799.8 990.0 L804 989.8 M799.8 996.0 L804 995.5 M799.8 1004.4 L804 1004.0 M799.8 1015.6 L804 1015.8 M799.8 1024.8 L804 1024.1 M799.8 1055.1 L804 1053.4 M799.8 1085.1 L804 1083.3 M799.8 1122.6 L804 1120.5 M799.8 1226.5 L804 1224.4" fill="none" stroke="#000" stroke-width="2.3"/>
<path d="M799.8 2144.3 L804 2127.5 M799.8 1694.0 L804 1700.0 M799.8 1414.4 L804 1408.8" fill="none" stroke="#000" stroke-width="1.8"/>
<g clip-path="url(#cl)" stroke="#000" stroke-width="1.8" stroke-linejoin="round">
<rect x="780" y="1380" width="900" height="900" fill="#0078FF" stroke="none"/>
<path d="M780.0 2143.5 L800.0 2143.5 L808.7 2108.6 L813.7 2108.6 L818.2 2094.8 L822.5 2102.3 L831.2 2086.1 L836.2 2099.8 L840.0 2103.6 L843.7 2099.8 L848.7 2089.8 L852.5 2089.3 L857.0 2081.1 L861.2 2094.8 L867.5 2122.3 L872.5 2147.3 L876.2 2144.8 L880.4 2167.3 L883.7 2172.3 L888.7 2166.0 L894.9 2167.3 L897.9 2161.0 L901.2 2179.8 L904.4 2167.3 L907.4 2166.8 L910.4 2161.0 L912.9 2166.0 L917.4 2163.5 L921.9 2161.0 L924.4 2194.8 L927.4 2197.3 L932.9 2197.3 L935.4 2184.8 L937.9 2188.5 L940.4 2198.5 L943.7 2194.8 L948.7 2194.3 L951.2 2196.8 L954.9 2193.5 L956.9 2178.5 L959.9 2175.3 L962.9 2184.8 L968.6 2194.8 L973.6 2196.0 L978.6 2201.0 L984.9 2199.8 L991.1 2201.8 L994.9 2196.8 L998.6 2199.8 L1002.4 2198.5 L1006.1 2201.8 L1009.9 2192.3 L1016.1 2192.3 L1018.6 2193.5 L1023.6 2189.3 L1026.1 2189.3 L1028.6 2201.0 L1032.9 2202.3 L1037.4 2169.8 L1039.1 2167.3 L1041.1 2146.0 L1043.6 2149.8 L1047.3 2146.0 L1050.3 2139.8 L1052.3 2148.5 L1056.1 2143.5 L1059.8 2147.3 L1061.1 2098.6 L1063.6 2096.1 L1066.1 2099.8 L1068.1 2073.6 L1070.3 2097.3 L1073.6 2104.3 L1077.3 2101.1 L1082.3 2107.3 L1087.3 2102.3 L1093.6 2099.8 L1097.3 2102.3 L1101.1 2084.8 L1105.6 2049.4 L1109.3 2074.8 L1112.3 2093.6 L1117.3 2099.8 L1121.1 2097.3 L1126.0 2078.6 L1130.3 2078.6 L1136.0 2036.1 L1137.8 2036.1 L1141.0 2020.6 L1144.3 2034.9 L1147.8 2056.1 L1149.8 2086.1 L1151.8 2091.1 L1156.0 2132.3 L1159.3 2144.8 L1162.8 2147.3 L1166.0 2159.8 L1169.8 2187.3 L1173.5 2192.3 L1178.5 2201.0 L1183.5 2201.8 L1187.3 2206.0 L1192.3 2202.3 L1197.8 2198.5 L1202.3 2199.8 L1206.0 2202.8 L1209.7 2187.3 L1212.0 2154.8 L1215.7 2164.8 L1224.5 2198.5 L1227.5 2189.8 L1230.7 2197.3 L1235.7 2199.8 L1242.0 2196.0 L1247.0 2201.0 L1253.2 2189.8 L1257.0 2188.5 L1264.5 2199.8 L1270.7 2204.8 L1284.5 2205.3 L1294.5 2203.5 L1300.7 2197.3 L1306.9 2191.0 L1316.9 2196.0 L1321.9 2194.8 L1329.4 2182.3 L1333.2 2189.8 L1346.9 2188.5 L1351.9 2169.8 L1355.7 2174.8 L1368.2 2166.0 L1370.7 2142.3 L1373.2 2123.6 L1378.2 2134.8 L1381.9 2137.3 L1386.9 2164.8 L1390.6 2179.8 L1399.4 2159.8 L1403.1 2157.3 L1411.9 2134.8 L1416.9 2119.8 L1421.9 2121.1 L1426.9 2134.8 L1430.6 2117.3 L1433.1 2079.8 L1435.6 2069.8 L1439.4 2058.6 L1444.4 2057.4 L1448.1 2041.1 L1451.9 2044.9 L1459.4 2029.9 L1465.6 2022.4 L1474.3 2016.1 L1479.3 2016.1 L1483.1 2037.4 L1486.8 2044.9 L1493.1 2051.1 L1496.8 1996.1 L1501.8 1994.9 L1510.6 2004.9 L1519.3 2007.4 L1700.0 2007.4 L1700.0 1370.0 L780.0 1370.0Z" fill="#00BEFF"/>
<path d="M780.0 1694.8 L797.5 1694.8 L801.2 1696.1 L810.0 1708.6 L813.7 1694.8 L817.5 1704.8 L822.0 1682.3 L826.2 1687.3 L831.2 1639.8 L836.2 1633.6 L840.0 1647.3 L837.5 1692.3 L845.0 1716.1 L848.7 1704.8 L852.5 1622.4 L857.5 1608.6 L868.7 1599.9 L872.5 1618.6 L876.2 1594.9 L878.7 1611.1 L883.7 1579.9 L886.9 1611.1 L884.9 1659.8 L879.9 1734.8 L876.2 1737.3 L876.2 1742.8 L880.4 1739.8 L886.2 1672.3 L891.2 1624.9 L894.9 1634.9 L892.4 1602.4 L894.9 1588.6 L903.7 1586.1 L907.4 1617.4 L906.2 1559.9 L909.9 1526.2 L913.7 1572.4 L917.4 1639.8 L919.4 1579.9 L922.4 1609.9 L924.9 1694.8 L919.9 1694.8 L914.9 1659.8 L914.1 1683.9 L916.2 1591.3 L918.3 1689.7 L926.7 1680.8 L928.6 1563.5 L930.5 1687.9 L938.1 1663.8 L940.0 1527.0 L942.0 1658.7 L942.7 1663.8 L943.7 1680.2 L944.7 1663.8 L950.2 1618.9 L953.3 1540.2 L956.3 1613.3 L958.7 1606.3 L961.1 1489.8 L963.5 1612.1 L969.2 1583.2 L971.3 1475.5 L973.5 1580.7 L974.6 1583.2 L975.6 1648.4 L976.5 1583.2 L977.1 1597.1 L979.3 1459.8 L981.5 1598.5 L986.8 1561.7 L989.6 1407.8 L992.4 1556.0 L1000.5 1569.8 L1003.5 1423.7 L1006.6 1562.9 L1008.2 1569.8 L1009.2 1599.5 L1010.2 1569.8 L1017.4 1536.4 L1020.1 1441.3 L1022.8 1541.5 L1028.9 1529.8 L1032.1 1439.1 L1035.4 1528.8 L1044.4 1543.8 L1047.7 1426.8 L1051.0 1542.5 L1052.2 1543.8 L1053.2 1595.2 L1054.2 1543.8 L1060.7 1544.8 L1064.0 1395.8 L1067.2 1541.4 L1073.8 1547.2 L1077.4 1404.5 L1081.0 1549.5 L1088.3 1582.5 L1091.1 1398.4 L1093.9 1589.7 L1094.5 1582.5 L1095.5 1624.6 L1096.5 1582.5 L1097.0 1553.8 L1099.7 1466.0 L1102.3 1560.9 L1107.5 1538.2 L1111.3 1456.6 L1115.0 1532.2 L1118.7 1542.8 L1121.2 1466.2 L1123.8 1535.3 L1124.5 1542.8 L1125.5 1572.1 L1126.5 1542.8 L1127.9 1544.6 L1130.8 1425.7 L1133.6 1548.4 L1135.6 1532.5 L1138.2 1422.5 L1140.7 1525.6 L1148.9 1515.2 L1152.0 1430.1 L1155.2 1521.4 L1157.0 1515.2 L1158.0 1564.8 L1159.0 1515.2 L1165.0 1490.5 L1167.6 1405.9 L1170.3 1495.2 L1179.1 1486.1 L1181.0 1397.7 L1182.9 1489.2 L1189.8 1465.5 L1191.5 1396.4 L1193.3 1468.3 L1194.3 1465.5 L1195.3 1471.9 L1196.3 1465.5 L1205.0 1428.9 L1207.1 1396.9 L1209.2 1429.5 L1212.0 1422.5 L1219.5 1400.0 L1220.7 1435.0 L1214.5 1447.5 L1215.7 1457.5 L1222.0 1447.5 L1224.5 1457.5 L1228.2 1438.7 L1232.0 1457.5 L1239.5 1482.4 L1244.5 1479.9 L1237.0 1514.9 L1234.5 1524.9 L1239.5 1559.9 L1238.2 1597.4 L1233.2 1603.6 L1229.5 1561.1 L1224.5 1561.1 L1234.5 1559.9 L1242.0 1497.4 L1249.5 1484.9 L1257.0 1542.4 L1263.2 1514.9 L1264.5 1534.9 L1262.0 1627.4 L1265.7 1637.3 L1270.7 1634.9 L1272.0 1647.3 L1263.2 1742.3 L1265.7 1697.3 L1273.2 1717.3 L1278.2 1654.8 L1280.7 1597.4 L1282.0 1647.3 L1292.0 1684.8 L1295.7 1659.8 L1304.4 1689.8 L1304.4 1734.8 L1298.2 1794.8 L1305.7 1787.3 L1308.2 1734.8 L1315.7 1718.5 L1325.7 1757.3 L1331.9 1752.3 L1338.2 1728.5 L1343.2 1739.8 L1346.9 1782.3 L1351.9 1767.3 L1364.4 1731.0 L1368.2 1739.8 L1361.9 1810.0 L1359.4 1810.0 L1359.4 1852.5 L1364.4 1846.2 L1370.7 1846.2 L1376.9 1855.0 L1379.4 1882.5 L1381.9 1899.9 L1385.6 1888.7 L1391.9 1909.9 L1399.4 1932.4 L1404.4 1939.9 L1409.4 1927.4 L1413.1 1926.2 L1415.6 1880.0 L1419.4 1860.0 L1424.4 1847.5 L1430.6 1835.0 L1434.4 1842.5 L1439.4 1845.0 L1446.9 1860.0 L1458.1 1882.5 L1455.6 1932.4 L1459.4 1933.7 L1463.1 1892.5 L1465.6 1877.5 L1470.6 1868.7 L1474.3 1894.9 L1479.3 1872.5 L1484.3 1860.0 L1493.1 1850.0 L1498.1 1853.7 L1501.8 1861.2 L1506.8 1860.0 L1509.3 1835.0 L1513.1 1822.5 L1523.1 1828.7 L1526.8 1816.2 L1531.8 1826.2 L1536.8 1821.2 L1561.8 1817.5 L1700.0 1817.5 L1700.0 1370.0 L780.0 1370.0Z" fill="#1EE6FF"/>
<path d="M797.5 1417.5 L805.0 1407.5 L815.0 1392.5 L780.0 1370.0Z" fill="#00FFFF"/>
<path d="M1278.2 1392.5 L1287.0 1410.0 L1296.9 1430.0 L1306.9 1447.5 L1316.9 1457.5 L1326.9 1462.5 L1336.9 1463.7 L1346.9 1466.2 L1359.4 1469.9 L1374.4 1467.5 L1386.9 1465.0 L1399.4 1461.2 L1406.9 1462.5 L1414.4 1471.2 L1424.4 1474.9 L1434.4 1477.4 L1441.9 1489.9 L1448.1 1502.4 L1459.4 1508.7 L1470.6 1509.9 L1476.8 1484.9 L1481.8 1447.5 L1486.8 1408.7 L1491.8 1430.0 L1496.8 1462.5 L1501.8 1463.7 L1506.8 1392.5Z" fill="#00FFFF"/>
<path d="M1310.7 1392.5 L1316.9 1405.0 L1326.9 1412.5 L1336.9 1413.7 L1351.9 1417.5 L1366.9 1422.5 L1379.4 1424.5 L1389.4 1421.2 L1401.9 1411.2 L1414.4 1412.5 L1424.4 1406.2 L1430.6 1403.7 L1436.9 1412.5 L1441.9 1427.5 L1449.4 1442.5 L1456.9 1447.5 L1465.6 1452.5 L1471.8 1430.0 L1475.6 1392.5Z" fill="#00FFD2"/>
<path d="M1515.6 1392.5 L1518.1 1484.9 L1514.3 1559.9 L1511.8 1634.9 L1514.3 1679.8 L1518.1 1676.1 L1521.8 1734.8 L1523.1 1772.3 L1526.8 1782.3 L1539.3 1764.8 L1541.8 1788.5 L1548.0 1789.8 L1549.3 1764.8 L1551.3 1787.3 L1555.5 1759.8 L1561.8 1732.3 L1563.8 1715.3 L1575.8 1693.8 L1580.0 1700.3 L1586.5 1680.6 L1591.0 1672.1 L1598.5 1674.1 L1607.3 1669.8 L1621.8 1667.3 L1700.0 1667.3 L1700.0 1370.0 L1515.6 1370.0Z" fill="#00FFFF"/>
<path d="M1524.3 1392.5 L1529.3 1460.0 L1534.3 1514.9 L1536.8 1559.9 L1539.3 1609.9 L1541.8 1659.8 L1544.3 1697.3 L1546.8 1723.5 L1553.0 1723.5 L1556.8 1704.8 L1561.8 1684.8 L1566.8 1664.8 L1571.8 1639.8 L1575.5 1649.8 L1580.5 1634.9 L1584.3 1628.6 L1589.3 1653.6 L1596.8 1656.1 L1601.8 1658.6 L1606.8 1649.8 L1621.8 1644.8 L1700.0 1644.8 L1700.0 1370.0 L1524.3 1370.0Z" fill="#00FFD2"/>
<path d="M1528.9 1391.5 L1532.2 1439.3 L1535.4 1464.3 L1539.8 1465.4 L1545.2 1439.3 L1549.6 1424.1 L1554.0 1429.4 L1557.5 1443.4 L1561.0 1460.9 L1563.9 1478.5 L1566.3 1501.8 L1567.5 1508.8 L1572.1 1510.6 L1573.9 1519.3 L1576.2 1548.6 L1578.6 1571.9 L1580.9 1588.3 L1585.0 1594.1 L1589.1 1595.3 L1592.0 1612.8 L1595.5 1623.3 L1601.9 1631.5 L1607.8 1614.0 L1614.8 1595.3 L1621.8 1583.6 L1700.0 1583.6 L1700.0 1370.0 L1528.9 1370.0Z" fill="#00FF64"/>
<path d="M1533.3 1391.5 L1536.5 1407.8 L1540.0 1407.2 L1544.7 1399.0 L1549.9 1396.7 L1554.6 1400.2 L1557.5 1420.0 L1560.4 1441.1 L1563.4 1460.9 L1566.9 1464.4 L1572.1 1465.6 L1574.5 1484.3 L1577.4 1501.8 L1580.3 1525.2 L1582.6 1548.6 L1585.0 1567.2 L1588.5 1574.3 L1591.4 1595.3 L1596.1 1607.0 L1601.9 1615.7 L1608.3 1601.1 L1615.9 1588.3 L1621.8 1581.3 L1700.0 1581.3 L1700.0 1370.0 L1533.3 1370.0Z" fill="#50FF00"/>
<path d="M1560.4 1389.7 L1562.8 1414.2 L1566.3 1437.6 L1571.5 1441.1 L1575.0 1460.9 L1578.6 1478.5 L1582.1 1501.8 L1585.6 1519.3 L1589.1 1542.7 L1592.0 1560.2 L1594.3 1577.8 L1597.8 1595.3 L1602.5 1605.8 L1608.9 1592.9 L1616.5 1582.4 L1621.8 1577.8 L1700.0 1577.8 L1700.0 1370.0 L1560.4 1370.0Z" fill="#FFFF00"/>
<path d="M1562.8 1389.7 L1565.7 1414.2 L1568.0 1420.0 L1572.1 1424.7 L1576.2 1443.4 L1579.7 1466.8 L1584.4 1484.3 L1589.1 1501.8 L1592.6 1503.0 L1597.2 1505.3 L1598.4 1519.3 L1596.7 1536.9 L1594.9 1554.4 L1596.1 1571.9 L1599.6 1588.3 L1603.1 1596.4 L1608.9 1587.1 L1616.5 1576.6 L1621.8 1571.9 L1700.0 1571.9 L1700.0 1370.0 L1562.8 1370.0Z" fill="#FFD72D"/>
<path d="M1566.9 1389.7 L1570.4 1406.0 L1575.0 1420.0 L1578.6 1437.6 L1583.2 1460.9 L1589.1 1475.0 L1594.3 1479.6 L1603.1 1475.5 L1603.7 1501.8 L1600.7 1525.2 L1597.8 1548.6 L1598.4 1567.2 L1601.9 1581.3 L1606.6 1585.9 L1616.5 1571.9 L1621.8 1567.2 L1700.0 1567.2 L1700.0 1370.0 L1566.9 1370.0Z" fill="#FFAF37"/>
<path d="M1579.7 1389.7 L1584.4 1414.2 L1589.1 1435.2 L1593.7 1439.3 L1603.7 1427.6 L1605.4 1455.1 L1606.6 1484.3 L1607.2 1513.5 L1605.4 1536.9 L1603.7 1560.2 L1607.2 1570.7 L1616.5 1562.6 L1621.8 1559.1 L1700.0 1559.1 L1700.0 1370.0 L1579.7 1370.0Z" fill="#FF9B23"/>
<path d="M1610.1 1389.7 L1611.0 1431.7 L1610.4 1478.5 L1611.3 1531.0 L1614.8 1501.8 L1617.7 1478.5 L1621.8 1457.4 L1700.0 1457.4 L1700.0 1370.0 L1610.1 1370.0Z" fill="#F58700"/>
<path d="M1563.7 1743.7 L1564.8 1739.3 L1567.0 1735.0 L1573.5 1732.8 L1576.7 1726.3 L1584.3 1724.1 L1588.7 1704.6 L1590.9 1698.0 L1601.7 1695.9 L1601.7 1754.6 L1563.7 1754.6Z" fill="#00BEFF"/>
<path fill="#00BEFF" d="M943.7 1609.9 L944.6 1625.5 L945.4 1648.8 L945.7 1674.8 L945.4 1700.8 L944.6 1724.2 L943.7 1739.8 L942.8 1724.2 L942.0 1700.8 L941.7 1674.8 L942.0 1648.8 L942.8 1625.5Z M1051.1 1609.9 L1052.0 1625.5 L1052.8 1648.8 L1053.1 1674.8 L1052.8 1700.8 L1052.0 1724.2 L1051.1 1739.8 L1050.2 1724.2 L1049.4 1700.8 L1049.1 1674.8 L1049.4 1648.8 L1050.2 1625.5Z M1058.6 1692.3 L1059.5 1698.0 L1060.3 1706.6 L1060.6 1716.1 L1060.3 1725.5 L1059.5 1734.1 L1058.6 1739.8 L1057.7 1734.1 L1056.9 1725.5 L1056.6 1716.1 L1056.9 1706.6 L1057.7 1698.0Z M1081.1 1634.9 L1082.0 1647.4 L1082.8 1666.3 L1083.1 1687.3 L1082.8 1708.3 L1082.0 1727.2 L1081.1 1739.8 L1080.2 1727.2 L1079.4 1708.3 L1079.1 1687.3 L1079.4 1666.3 L1080.2 1647.4Z M1112.3 1709.8 L1112.6 1713.4 L1112.9 1718.8 L1113.1 1724.8 L1112.9 1730.8 L1112.6 1736.2 L1112.3 1739.8 L1112.0 1736.2 L1111.7 1730.8 L1111.6 1724.8 L1111.7 1718.8 L1112.0 1713.4Z M1108.6 1602.4 L1109.7 1610.8 L1110.7 1623.4 L1111.1 1637.3 L1110.7 1651.3 L1109.7 1663.9 L1108.6 1672.3 L1107.4 1663.9 L1106.4 1651.3 L1106.1 1637.3 L1106.4 1623.4 L1107.4 1610.8Z M818.7 1619.9 L820.1 1627.1 L821.3 1637.8 L821.7 1649.8 L821.3 1661.8 L820.1 1672.6 L818.7 1679.8 L817.4 1672.6 L816.2 1661.8 L815.7 1649.8 L816.2 1637.8 L817.4 1627.1Z M862.5 1683.6 L863.8 1685.7 L865.0 1688.8 L865.5 1692.3 L865.0 1695.8 L863.8 1699.0 L862.5 1701.1 L861.1 1699.0 L859.9 1695.8 L859.5 1692.3 L859.9 1688.8 L861.1 1685.7Z M1093.6 1559.9 L1094.9 1576.1 L1096.1 1600.4 L1096.6 1627.4 L1096.1 1654.3 L1094.9 1678.6 L1093.6 1694.8 L1092.2 1678.6 L1091.0 1654.3 L1090.6 1627.4 L1091.0 1600.4 L1092.2 1576.1Z M1053.6 1584.9 L1054.7 1598.4 L1055.7 1618.6 L1056.1 1641.1 L1055.7 1663.6 L1054.7 1683.8 L1053.6 1697.3 L1052.5 1683.8 L1051.5 1663.6 L1051.1 1641.1 L1051.5 1618.6 L1052.5 1598.4Z M1088.6 1524.9 L1089.7 1545.3 L1090.7 1575.9 L1091.1 1609.9 L1090.7 1643.8 L1089.7 1674.4 L1088.6 1694.8 L1087.4 1674.4 L1086.4 1643.8 L1086.1 1609.9 L1086.4 1575.9 L1087.4 1545.3Z M1044.8 1400.0 L1045.9 1415.0 L1046.8 1437.5 L1047.1 1462.5 L1046.8 1487.4 L1045.9 1509.9 L1044.8 1524.9 L1043.8 1509.9 L1042.9 1487.4 L1042.6 1462.5 L1042.9 1437.5 L1043.8 1415.0Z M1054.8 1400.0 L1056.0 1419.2 L1057.0 1448.0 L1057.3 1479.9 L1057.0 1511.9 L1056.0 1540.7 L1054.8 1559.9 L1053.7 1540.7 L1052.7 1511.9 L1052.3 1479.9 L1052.7 1448.0 L1053.7 1419.2Z M1062.3 1435.0 L1063.3 1450.0 L1064.2 1472.4 L1064.6 1497.4 L1064.2 1522.4 L1063.3 1544.9 L1062.3 1559.9 L1061.3 1544.9 L1060.4 1522.4 L1060.1 1497.4 L1060.4 1472.4 L1061.3 1450.0Z M1069.8 1400.0 L1070.8 1414.4 L1071.7 1436.0 L1072.1 1460.0 L1071.7 1483.9 L1070.8 1505.5 L1069.8 1519.9 L1068.8 1505.5 L1067.9 1483.9 L1067.6 1460.0 L1067.9 1436.0 L1068.8 1414.4Z M1077.3 1489.9 L1078.3 1507.3 L1079.2 1533.4 L1079.6 1562.4 L1079.2 1591.4 L1078.3 1617.5 L1077.3 1634.9 L1076.3 1617.5 L1075.4 1591.4 L1075.1 1562.4 L1075.4 1533.4 L1076.3 1507.3Z M1099.8 1509.9 L1100.7 1532.1 L1101.5 1565.4 L1101.8 1602.4 L1101.5 1639.3 L1100.7 1672.6 L1099.8 1694.8 L1098.9 1672.6 L1098.1 1639.3 L1097.8 1602.4 L1098.1 1565.4 L1098.9 1532.1Z M1042.3 1460.0 L1043.1 1482.4 L1043.8 1516.2 L1044.1 1553.6 L1043.8 1591.1 L1043.1 1624.9 L1042.3 1647.3 L1041.6 1624.9 L1040.9 1591.1 L1040.6 1553.6 L1040.9 1516.2 L1041.6 1482.4Z M1048.6 1410.0 L1049.4 1425.0 L1050.1 1447.5 L1050.3 1472.4 L1050.1 1497.4 L1049.4 1519.9 L1048.6 1534.9 L1047.8 1519.9 L1047.1 1497.4 L1046.8 1472.4 L1047.1 1447.5 L1047.8 1425.0Z M1058.6 1397.5 L1059.4 1408.0 L1060.1 1423.7 L1060.3 1441.2 L1060.1 1458.7 L1059.4 1474.4 L1058.6 1484.9 L1057.8 1474.4 L1057.1 1458.7 L1056.8 1441.2 L1057.1 1423.7 L1057.8 1408.0Z M1066.1 1460.0 L1066.9 1477.9 L1067.6 1504.9 L1067.8 1534.9 L1067.6 1564.9 L1066.9 1591.9 L1066.1 1609.9 L1065.3 1591.9 L1064.6 1564.9 L1064.3 1534.9 L1064.6 1504.9 L1065.3 1477.9Z M1023.2 1442.1 L1024.1 1447.4 L1025.0 1455.3 L1025.3 1464.1 L1025.0 1472.9 L1024.1 1480.9 L1023.2 1486.1 L1022.2 1480.9 L1021.3 1472.9 L1021.0 1464.1 L1021.3 1455.3 L1022.2 1447.4Z M1118.1 1402.0 L1119.2 1404.5 L1120.2 1408.2 L1120.6 1412.4 L1120.2 1416.5 L1119.2 1420.3 L1118.1 1422.8 L1117.0 1420.3 L1116.0 1416.5 L1115.6 1412.4 L1116.0 1408.2 L1117.0 1404.5Z M1028.4 1415.0 L1029.3 1425.1 L1030.1 1440.4 L1030.4 1457.3 L1030.1 1474.2 L1029.3 1489.5 L1028.4 1499.6 L1027.5 1489.5 L1026.7 1474.2 L1026.4 1457.3 L1026.7 1440.4 L1027.5 1425.1Z M1169.7 1428.2 L1170.4 1435.6 L1171.0 1446.7 L1171.2 1459.0 L1171.0 1471.3 L1170.4 1482.4 L1169.7 1489.7 L1169.0 1482.4 L1168.5 1471.3 L1168.2 1459.0 L1168.5 1446.7 L1169.0 1435.6Z M1120.3 1481.1 L1121.4 1487.6 L1122.3 1497.3 L1122.7 1508.1 L1122.3 1518.9 L1121.4 1528.6 L1120.3 1535.1 L1119.3 1528.6 L1118.3 1518.9 L1118.0 1508.1 L1118.3 1497.3 L1119.3 1487.6Z M1129.3 1401.6 L1130.3 1409.9 L1131.1 1422.4 L1131.4 1436.2 L1131.1 1450.1 L1130.3 1462.6 L1129.3 1470.9 L1128.3 1462.6 L1127.5 1450.1 L1127.2 1436.2 L1127.5 1422.4 L1128.3 1409.9Z M1038.7 1397.9 L1039.5 1407.1 L1040.3 1420.8 L1040.6 1436.0 L1040.3 1451.3 L1039.5 1465.0 L1038.7 1474.1 L1037.8 1465.0 L1037.0 1451.3 L1036.7 1436.0 L1037.0 1420.8 L1037.8 1407.1Z M1140.9 1474.9 L1142.1 1482.9 L1143.1 1494.8 L1143.5 1508.1 L1143.1 1521.4 L1142.1 1533.3 L1140.9 1541.3 L1139.7 1533.3 L1138.7 1521.4 L1138.3 1508.1 L1138.7 1494.8 L1139.7 1482.9Z M1061.6 1476.9 L1062.8 1482.8 L1063.9 1491.6 L1064.3 1501.3 L1063.9 1511.1 L1062.8 1519.9 L1061.6 1525.8 L1060.4 1519.9 L1059.3 1511.1 L1059.0 1501.3 L1059.3 1491.6 L1060.4 1482.8Z M1180.1 1401.0 L1180.8 1404.4 L1181.4 1409.6 L1181.7 1415.4 L1181.4 1421.2 L1180.8 1426.3 L1180.1 1429.8 L1179.4 1426.3 L1178.7 1421.2 L1178.5 1415.4 L1178.7 1409.6 L1179.4 1404.4Z M1201.3 1408.9 L1202.1 1415.3 L1202.7 1424.8 L1203.0 1435.4 L1202.7 1445.9 L1202.1 1455.5 L1201.3 1461.8 L1200.5 1455.5 L1199.9 1445.9 L1199.6 1435.4 L1199.9 1424.8 L1200.5 1415.3Z M1089.1 1439.3 L1090.1 1444.5 L1090.9 1452.2 L1091.2 1460.7 L1090.9 1469.3 L1090.1 1477.0 L1089.1 1482.1 L1088.1 1477.0 L1087.3 1469.3 L1087.0 1460.7 L1087.3 1452.2 L1088.1 1444.5Z M1108.0 1485.7 L1109.1 1493.5 L1110.2 1505.0 L1110.6 1517.9 L1110.2 1530.8 L1109.1 1542.3 L1108.0 1550.0 L1106.8 1542.3 L1105.7 1530.8 L1105.3 1517.9 L1105.7 1505.0 L1106.8 1493.5Z M1174.6 1457.8 L1175.3 1464.7 L1175.9 1475.1 L1176.1 1486.5 L1175.9 1498.0 L1175.3 1508.4 L1174.6 1515.3 L1173.9 1508.4 L1173.3 1498.0 L1173.1 1486.5 L1173.3 1475.1 L1173.9 1464.7Z"/>
</g>
<g fill="none" stroke="#000" stroke-width="4.4" stroke-linejoin="miter">
<rect x="336.5" y="953.6" width="1488.0" height="418.1"/>
<rect x="336.5" y="1393.4" width="1488.0" height="953.2"/>
</g>
<g stroke="#000" stroke-width="3.6" stroke-linecap="round">
<line x1="336.5" y1="1142.0" x2="370.5" y2="1142.0"/>
<line x1="336.5" y1="1331.0" x2="370.5" y2="1331.0"/>
<line x1="336.5" y1="1566.7" x2="381.5" y2="1566.7"/>
<line x1="336.5" y1="1762.0" x2="381.5" y2="1762.0"/>
<line x1="336.5" y1="1956.6" x2="381.5" y2="1956.6"/>
<line x1="336.5" y1="2151.3" x2="381.5" y2="2151.3"/>
<line x1="584.5" y1="2346.6" x2="584.5" y2="2301.6"/>
<line x1="832.5" y1="2346.6" x2="832.5" y2="2301.6"/>
<line x1="1080.5" y1="2346.6" x2="1080.5" y2="2301.6"/>
<line x1="1328.5" y1="2346.6" x2="1328.5" y2="2301.6"/>
<line x1="1576.5" y1="2346.6" x2="1576.5" y2="2301.6"/>
</g>
<g font-size="58" text-anchor="end">
<text transform="translate(295.5,975.2) scale(1.03,1.040)">0.0</text>
<text transform="translate(295.5,1163.6) scale(1.03,1.040)">0.5</text>
<text transform="translate(295.5,1352.6) scale(1.03,1.040)">1.0</text>
<text transform="translate(295.5,1588.3) scale(1.03,1.040)">2.0</text>
<text transform="translate(295.5,1783.6) scale(1.03,1.040)">3.0</text>
<text transform="translate(295.5,1978.2) scale(1.03,1.040)">4.0</text>
<text transform="translate(295.5,2172.9) scale(1.03,1.040)">5.0</text>
<text transform="translate(295.5,2368.2) scale(1.03,1.040)">6.0</text>
</g>
<g font-size="58" text-anchor="middle">
<text transform="translate(336.5,2441) scale(1,1.040)">90<tspan font-size="40" dy="-26">o</tspan><tspan dy="26">S</tspan></text>
<text transform="translate(584.5,2441) scale(1,1.040)">60<tspan font-size="40" dy="-26">o</tspan><tspan dy="26">S</tspan></text>
<text transform="translate(832.5,2441) scale(1,1.040)">30<tspan font-size="40" dy="-26">o</tspan><tspan dy="26">S</tspan></text>
<text transform="translate(1080.5,2441) scale(1,1.040)">0<tspan font-size="40" dy="-26">o</tspan><tspan dy="26"></tspan></text>
<text transform="translate(1328.5,2441) scale(1,1.040)">30<tspan font-size="40" dy="-26">o</tspan><tspan dy="26">N</tspan></text>
<text transform="translate(1576.5,2441) scale(1,1.040)">60<tspan font-size="40" dy="-26">o</tspan><tspan dy="26">N</tspan></text>
<text transform="translate(1824.5,2441) scale(1,1.040)">90<tspan font-size="40" dy="-26">o</tspan><tspan dy="26">N</tspan></text>
</g>
<text font-size="50" text-anchor="middle" transform="translate(192.5,1725) rotate(-90)">DEPTH (km)</text>
<text transform="translate(229.6,925) scale(1,1.040)" font-size="52" textLength="1701" lengthAdjust="spacingAndGlyphs">KAPPA_THIC ZONAL-AVE (ATL) f09.B-hist.tn15.cmip6.k32 [1925-1954]</text>
<g stroke="#000" stroke-width="2.4">
<rect x="1949.7" y="942.50" width="133.3" height="67.85" fill="#C80000"/>
<rect x="1949.7" y="1010.35" width="133.3" height="67.85" fill="#E10000"/>
<rect x="1949.7" y="1078.20" width="133.3" height="67.85" fill="#FF1E00"/>
<rect x="1949.7" y="1146.05" width="133.3" height="67.85" fill="#F58700"/>
<rect x="1949.7" y="1213.90" width="133.3" height="67.85" fill="#FF9B23"/>
<rect x="1949.7" y="1281.75" width="133.3" height="67.85" fill="#FFAF37"/>
<rect x="1949.7" y="1349.60" width="133.3" height="67.85" fill="#FFD72D"/>
<rect x="1949.7" y="1417.45" width="133.3" height="67.85" fill="#FFFF00"/>
<rect x="1949.7" y="1485.30" width="133.3" height="67.85" fill="#50FF00"/>
<rect x="1949.7" y="1553.15" width="133.3" height="67.85" fill="#00FF64"/>
<rect x="1949.7" y="1621.00" width="133.3" height="67.85" fill="#00FFD2"/>
<rect x="1949.7" y="1688.85" width="133.3" height="67.85" fill="#00FFFF"/>
<rect x="1949.7" y="1756.70" width="133.3" height="67.85" fill="#1EE6FF"/>
<rect x="1949.7" y="1824.55" width="133.3" height="67.85" fill="#00BEFF"/>
<rect x="1949.7" y="1892.40" width="133.3" height="67.85" fill="#0078FF"/>
<rect x="1949.7" y="1960.25" width="133.3" height="67.85" fill="#0000FF"/>
<rect x="1949.7" y="2028.10" width="133.3" height="67.85" fill="#8C00DC"/>
<rect x="1949.7" y="2095.95" width="133.3" height="67.85" fill="#E100E6"/>
<rect x="1949.7" y="2163.80" width="133.3" height="67.85" fill="#D2D2D2"/>
<rect x="1949.7" y="2231.65" width="133.3" height="67.85" fill="#737373"/>
</g>
<g font-size="51">
<text transform="translate(2120.5,962.1) scale(1,1.040)">3000</text>
<text transform="translate(2120.5,1030.0) scale(1,1.040)">2000</text>
<text transform="translate(2120.5,1097.8) scale(1,1.040)">1800</text>
<text transform="translate(2120.5,1165.6) scale(1,1.040)">1600</text>
<text transform="translate(2120.5,1233.5) scale(1,1.040)">1400</text>
<text transform="translate(2120.5,1301.3) scale(1,1.040)">1200</text>
<text transform="translate(2120.5,1369.2) scale(1,1.040)">1000</text>
<text transform="translate(2120.5,1437.0) scale(1,1.040)">900</text>
<text transform="translate(2120.5,1504.9) scale(1,1.040)">800</text>
<text transform="translate(2120.5,1572.8) scale(1,1.040)">700</text>
<text transform="translate(2120.5,1640.6) scale(1,1.040)">600</text>
<text transform="translate(2120.5,1708.4) scale(1,1.040)">500</text>
<text transform="translate(2120.5,1776.3) scale(1,1.040)">400</text>
<text transform="translate(2120.5,1844.1) scale(1,1.040)">300</text>
<text transform="translate(2120.5,1912.0) scale(1,1.040)">200</text>
<text transform="translate(2120.5,1979.8) scale(1,1.040)">100</text>
<text transform="translate(2120.5,2047.7) scale(1,1.040)">80</text>
<text transform="translate(2120.5,2115.5) scale(1,1.040)">60</text>
<text transform="translate(2120.5,2183.4) scale(1,1.040)">40</text>
<text transform="translate(2120.5,2251.2) scale(1,1.040)">20</text>
<text transform="translate(2120.5,2319.1) scale(1,1.040)">0</text>
</g>
</svg></body></html>
